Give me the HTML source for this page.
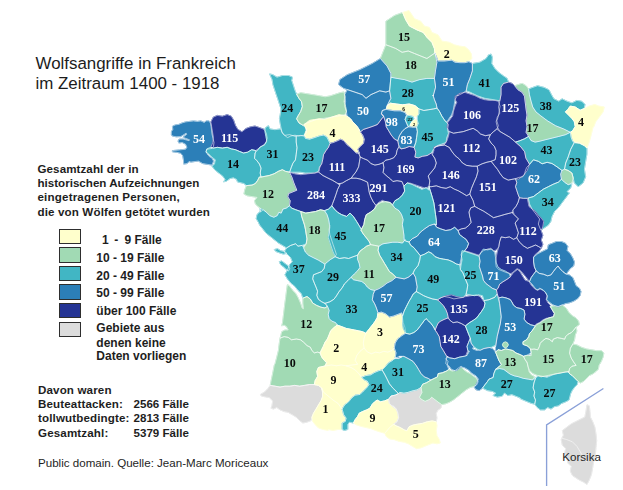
<!DOCTYPE html>
<html><head><meta charset="utf-8"><title>Wolfsangriffe in Frankreich</title>
<style>
html,body{margin:0;padding:0;background:#fff;}
body{width:623px;height:490px;overflow:hidden;position:relative;font-family:"Liberation Sans",sans-serif;color:#1a1a1a;}
.t{position:absolute;white-space:pre;line-height:1;}
.title{font-size:16.9px;left:35.5px;color:#1c1c1c;}
.b{font-weight:bold;font-size:11.6px;color:#1e1e1e;}
.r{font-size:11.58px;color:#1e1e1e;}
.l{font-size:12px;}
.sw{position:absolute;left:58.8px;width:20.5px;height:13.4px;border:1px solid #2e2e2e;}
svg{position:absolute;left:0;top:0;}
svg text{font-family:"Liberation Serif",serif;font-weight:bold;}
</style></head><body>
<svg width="623" height="490" viewBox="0 0 623 490">
<g style="filter:blur(0.35px)">
<polygon points="385.9,21.2 394.6,15.4 402.6,12.5 405.8,19.9 409.5,26.1 417.0,29.9 423.2,32.4 426.9,37.3 431.9,42.3 434.4,48.5 434.9,53.0 426.9,58.5 420.7,56.0 414.5,53.5 408.3,51.0 402.1,52.3 395.8,48.5 389.6,46.1 385.9,44.8" fill="#a1dab4" stroke="#a1dab4" stroke-width="1.0" stroke-linejoin="round"/>
<polygon points="385.9,44.8 389.6,46.1 395.8,48.5 402.1,52.3 408.3,51.0 414.5,53.5 420.7,56.0 426.9,58.5 434.9,53.0 436.9,62.2 435.6,69.7 434.4,78.4 426.9,78.4 419.5,79.6 412.0,82.1 404.5,79.6 397.1,78.4 390.9,77.2 390.9,73.4 387.1,66.0 380.4,58.5 383.4,51.0" fill="#a1dab4" stroke="#a1dab4" stroke-width="1.0" stroke-linejoin="round"/>
<polygon points="402.6,12.5 409.0,10.5 414.5,18.7 420.7,21.2 424.4,26.1 429.4,27.4 431.9,32.4 438.1,34.9 441.9,41.1 449.3,42.3 454.3,44.8 459.3,46.1 465.0,46.8 468.7,49.8 471.2,53.5 471.9,58.5 468.7,61.7 465.0,62.7 460.0,62.7 455.0,62.2 451.8,60.2 444.3,61.0 438.1,61.0 434.9,53.0 434.4,48.5 431.9,42.3 426.9,37.3 423.2,32.4 417.0,29.9 409.5,26.1 405.8,19.9" fill="#ffffcc" stroke="#ffffcc" stroke-width="1.0" stroke-linejoin="round"/>
<polygon points="380.4,58.5 387.1,66.0 390.9,73.4 390.9,77.2 389.6,90.8 385.9,92.1 379.7,90.8 371.0,94.6 366.0,98.3 362.2,94.6 354.8,92.1 347.3,89.6 343.6,88.3 338.6,84.6 339.9,79.6 347.3,74.7 359.8,69.7 372.2,63.5" fill="#2c7fb8" stroke="#2c7fb8" stroke-width="1.0" stroke-linejoin="round"/>
<polygon points="472.4,63.5 479.9,62.2 486.1,58.5 488.6,54.8 491.1,54.0 492.3,57.2 491.8,63.5 494.8,68.4 498.5,72.2 503.5,75.9 507.2,78.4 508.5,82.1 503.5,83.4 501.0,87.1 501.0,94.6 499.8,100.8 492.3,99.5 484.9,98.3 477.4,95.8 469.9,92.1 466.2,90.8 467.4,84.6 469.9,78.4 472.4,70.9" fill="#41b6c4" stroke="#41b6c4" stroke-width="1.0" stroke-linejoin="round"/>
<polygon points="574.4,141.9 579.4,143.1 584.4,145.6 586.9,148.1 586.9,154.3 585.6,161.8 584.4,169.2 585.6,176.7 583.1,182.9 578.2,186.7 574.4,182.9 573.2,178.0 571.9,173.0 568.2,170.5 564.5,169.2 565.7,163.0 568.2,156.8 570.7,149.3" fill="#41b6c4" stroke="#41b6c4" stroke-width="1.0" stroke-linejoin="round"/>
<polygon points="562.0,170.5 564.5,169.2 568.2,170.5 571.9,173.0 573.2,178.0 571.9,182.9 568.2,184.7 564.5,182.2 561.5,179.2 560.7,174.2" fill="#a1dab4" stroke="#a1dab4" stroke-width="1.0" stroke-linejoin="round"/>
<polygon points="529.6,164.3 533.4,159.8 538.3,161.3 542.1,163.8 547.1,162.3 552.0,163.5 557.0,166.8 562.0,170.5 560.7,174.2 561.5,179.2 558.3,182.2 553.3,184.2 548.3,186.7 543.3,189.2 538.3,192.9 533.4,196.6 527.3,198.3 523.3,198.3 519.4,197.7 518.1,194.4 516.8,190.5 515.5,186.6 516.8,182.6 515.5,178.7 518.8,177.4 522.7,176.8 524.6,174.2 525.3,170.9 526.6,167.6" fill="#2c7fb8" stroke="#2c7fb8" stroke-width="1.0" stroke-linejoin="round"/>
<polygon points="528.4,197.9 533.4,196.6 538.3,192.9 543.3,189.2 548.3,186.7 553.3,184.2 558.3,182.2 561.5,179.2 564.5,182.2 568.2,184.7 571.9,183.7 570.7,187.9 567.0,191.6 569.4,192.9 565.7,197.9 562.0,202.8 558.3,207.8 554.5,211.5 552.0,216.5 550.8,221.5 548.3,225.2 544.6,227.7 540.8,230.2 538.3,224.0 539.6,219.0 535.9,214.0 532.1,209.1 529.6,204.1" fill="#41b6c4" stroke="#41b6c4" stroke-width="1.0" stroke-linejoin="round"/>
<polygon points="514.7,85.7 522.1,83.3 526.1,85.7 528.6,89.0 529.4,94.7 531.0,101.2 532.7,107.0 535.9,111.9 540.8,115.9 547.4,120.8 555.6,125.8 563.7,129.0 570.3,132.3 565.4,134.7 558.8,136.4 552.3,138.0 545.8,139.6 539.2,141.3 535.1,142.1 531.0,140.5 528.6,136.4 526.1,132.3 527.0,126.6 526.1,120.8 527.0,115.1 526.1,109.4 525.3,102.9 524.5,96.3 522.1,92.3 518.0,89.8 514.7,85.7" fill="#a1dab4" stroke="#a1dab4" stroke-width="1.0" stroke-linejoin="round"/>
<polygon points="528.6,89.0 532.7,87.4 537.6,85.7 544.1,87.4 549.0,89.8 551.5,94.7 553.9,98.8 558.8,101.2 562.1,98.8 567.0,101.2 571.9,102.9 576.8,100.4 581.7,101.2 585.0,104.5 584.2,108.6 580.1,110.2 575.2,107.0 570.3,106.1 567.8,109.4 565.4,111.9 568.6,115.1 571.9,118.4 574.3,121.7 575.2,126.6 572.7,130.7 570.3,132.3 563.7,129.0 555.6,125.8 547.4,120.8 540.8,115.9 535.9,111.9 532.7,107.0 531.0,101.2 529.4,94.7 528.6,89.0" fill="#41b6c4" stroke="#41b6c4" stroke-width="1.0" stroke-linejoin="round"/>
<polygon points="565.4,111.9 567.8,109.4 570.3,106.1 575.2,107.0 580.1,110.2 584.2,108.6 589.1,106.1 594.8,104.5 598.9,106.1 604.3,107.0 603.0,112.0 599.3,117.0 595.6,121.9 593.8,126.9 593.1,127.0 591.3,134.4 589.3,141.9 586.9,148.1 584.4,145.6 579.4,143.1 574.4,142.6 572.7,141.3 571.1,137.2 570.3,132.3 572.7,130.7 575.2,126.6 574.3,121.7 571.9,118.4 568.6,115.1" fill="#ffffcc" stroke="#ffffcc" stroke-width="1.0" stroke-linejoin="round"/>
<polygon points="503.5,83.4 508.5,82.1 512.2,83.4 514.7,85.7 518.0,89.8 522.1,92.3 524.5,96.3 525.3,102.9 526.1,109.4 527.0,115.1 526.1,120.8 527.0,126.6 526.1,132.3 528.6,136.4 524.5,138.8 519.6,140.8 515.5,142.1 509.8,137.2 500.0,131.5 497.3,126.9 496.1,121.9 497.3,117.0 499.8,113.2 498.5,107.0 499.8,100.8 501.0,94.6 501.0,87.1" fill="#253494" stroke="#253494" stroke-width="1.0" stroke-linejoin="round"/>
<polygon points="515.5,142.1 519.6,140.8 524.5,138.8 528.6,136.4 531.0,140.5 535.1,142.1 539.2,141.3 545.8,139.6 552.3,138.0 558.8,136.4 565.4,134.7 570.3,132.3 571.1,137.2 572.7,141.3 574.4,142.6 570.7,149.3 568.2,156.8 565.7,163.0 564.5,169.2 562.0,170.5 557.0,166.8 552.0,163.5 547.1,162.3 542.1,163.8 538.3,161.3 533.4,159.8 529.6,164.3 525.9,158.1 524.7,151.8 520.9,146.9" fill="#41b6c4" stroke="#41b6c4" stroke-width="1.0" stroke-linejoin="round"/>
<polygon points="390.9,77.2 397.1,78.4 404.5,79.6 412.0,82.1 419.5,79.6 426.9,78.4 434.4,78.4 435.6,87.1 433.2,95.8 432.9,95.0 434.5,99.9 436.2,104.0 437.0,108.1 433.7,108.9 428.8,109.7 423.9,110.5 419.0,108.9 414.9,105.6 409.2,104.0 402.7,104.8 396.1,104.0 390.4,103.2 387.2,105.6 390.9,98.3 389.6,90.8" fill="#41b6c4" stroke="#41b6c4" stroke-width="1.0" stroke-linejoin="round"/>
<polygon points="347.3,89.6 354.8,92.1 362.2,94.6 366.0,98.3 371.0,94.6 379.7,90.8 385.9,92.1 389.6,90.8 390.9,98.3 387.2,105.6 386.3,108.9 382.3,110.5 381.4,113.8 384.0,116.3 382.3,118.0 379.9,121.2 377.4,124.5 373.3,126.1 368.4,127.8 363.5,129.4 360.3,131.9 358.6,128.6 356.2,125.3 352.9,122.1 350.5,118.8 347.2,116.3 346.4,111.4 344.7,106.5 345.6,101.6 344.8,94.6" fill="#2c7fb8" stroke="#2c7fb8" stroke-width="1.0" stroke-linejoin="round"/>
<polygon points="434.9,53.0 438.1,61.0 444.3,61.0 451.8,60.2 455.0,62.2 460.0,62.7 465.0,62.7 468.7,61.7 472.4,63.5 472.4,70.9 469.9,78.4 467.4,84.6 466.2,90.8 462.5,93.3 457.5,95.8 458.2,95.0 456.6,96.6 455.0,99.9 454.2,104.8 453.3,109.7 451.7,114.6 448.4,119.5 446.8,122.0 445.2,121.1 441.9,116.2 439.4,111.3 437.0,108.1 436.2,104.0 434.5,99.9 432.9,95.0 433.2,95.8 435.6,87.1 434.4,78.4 435.6,69.7 436.9,62.2" fill="#2c7fb8" stroke="#2c7fb8" stroke-width="1.0" stroke-linejoin="round"/>
<polygon points="387.2,105.6 390.4,103.2 396.1,104.0 402.7,104.8 409.2,104.0 414.9,105.6 419.0,108.9 419.0,113.8 417.4,116.2 413.3,116.6 409.2,115.4 405.1,112.5 400.2,110.8 394.5,110.8 389.6,110.0 386.3,109.4" fill="#ffffcc" stroke="#ffffcc" stroke-width="1.0" stroke-linejoin="round"/>
<polygon points="382.3,110.5 386.3,109.4 389.6,110.0 394.5,110.8 400.2,110.8 405.1,112.5 406.8,116.2 405.1,119.5 406.8,123.6 408.4,126.9 405.1,128.5 401.9,131.8 399.4,135.8 397.8,140.8 394.5,139.1 391.2,135.0 388.8,130.9 386.3,126.9 385.5,122.0 383.9,117.1 381.4,113.8" fill="#2c7fb8" stroke="#2c7fb8" stroke-width="1.0" stroke-linejoin="round"/>
<polygon points="405.9,116.2 409.2,115.4 413.3,116.6 414.1,119.5 411.7,122.0 410.0,125.2 408.4,126.9 406.8,123.6 405.1,119.5" fill="#41b6c4" stroke="#41b6c4" stroke-width="1.0" stroke-linejoin="round"/>
<polygon points="411.7,122.0 414.1,119.5 417.4,120.3 418.2,123.6 416.6,127.2 412.5,127.2 410.0,125.2" fill="#ffffcc" stroke="#ffffcc" stroke-width="1.0" stroke-linejoin="round"/>
<polygon points="401.9,131.8 405.1,128.5 408.4,126.9 412.5,127.2 416.6,127.2 417.4,131.8 416.6,137.5 415.8,142.4 414.1,147.3 409.2,146.5 405.1,148.1 401.0,148.9 398.6,144.8 397.8,140.8 399.4,135.8" fill="#2c7fb8" stroke="#2c7fb8" stroke-width="1.0" stroke-linejoin="round"/>
<polygon points="419.0,108.9 423.9,110.5 428.8,109.7 433.7,108.9 437.0,108.1 439.4,111.3 441.9,116.2 445.2,121.1 448.4,124.4 447.6,129.3 448.4,133.4 446.8,137.5 446.0,142.4 441.9,144.0 437.0,145.7 433.7,148.9 431.3,153.0 427.2,155.5 422.3,156.3 418.2,157.9 414.9,157.1 415.8,152.2 414.1,147.3 415.8,142.4 416.6,137.5 417.4,131.8 416.6,127.2 418.2,123.6 417.4,120.3 417.4,116.2 419.0,113.8" fill="#41b6c4" stroke="#41b6c4" stroke-width="1.0" stroke-linejoin="round"/>
<polygon points="172.4,126.3 175.3,124.9 178.7,124.4 182.2,122.9 185.6,121.9 189.5,121.4 193.5,120.9 197.4,121.4 200.8,120.9 204.2,122.4 206.2,120.9 209.1,120.9 210.6,123.4 211.1,126.8 211.6,130.7 212.1,134.7 213.1,138.6 214.0,142.5 213.5,146.4 212.1,148.4 209.1,148.9 206.7,149.4 206.2,151.8 207.7,154.8 209.6,156.7 212.1,158.2 213.5,161.1 212.1,165.1 207.6,164.4 202.7,163.6 198.4,161.1 194.4,161.6 191.0,162.1 189.0,161.6 187.1,163.6 183.6,164.1 183.5,160.2 182.7,155.7 180.7,153.3 176.8,152.3 172.4,151.8 172.4,150.6 179.7,149.9 185.6,149.2 186.9,147.2 185.6,144.3 182.2,142.5 178.7,143.0 178.0,141.0 179.2,139.1 183.2,139.1 189.0,140.7 189.5,139.8 182.9,137.3 186.8,134.2 186.1,133.2 180.7,136.6 176.3,136.8 172.4,136.1 171.4,134.7 171.4,131.7 172.9,129.3" fill="#2c7fb8" stroke="#2c7fb8" stroke-width="1.0" stroke-linejoin="round"/>
<polygon points="210.8,122.0 213.3,117.1 217.4,115.4 222.3,116.2 227.2,114.6 231.3,116.2 233.7,120.3 235.4,125.2 237.8,129.3 241.9,131.8 246.0,128.5 250.1,126.9 255.0,126.0 259.9,127.7 264.0,129.3 266.4,133.4 267.2,138.3 265.6,143.2 262.3,145.7 259.1,148.1 255.8,150.6 251.7,149.7 247.6,152.2 243.5,153.0 239.4,151.4 235.4,149.7 231.3,148.9 227.2,147.3 222.3,148.1 217.4,147.3 213.3,148.1 210.8,147.3 212.8,142.4 213.3,136.7 212.5,131.8 211.7,126.9" fill="#253494" stroke="#253494" stroke-width="1.0" stroke-linejoin="round"/>
<polygon points="206.8,148.9 210.8,147.3 213.3,148.1 217.4,147.3 222.3,148.1 227.2,147.3 231.3,148.9 235.4,149.7 239.4,151.4 243.5,153.0 247.6,152.2 251.7,149.7 255.8,150.6 254.5,158.3 257.0,160.8 259.4,164.0 261.0,168.1 260.2,173.0 261.0,177.1 259.4,177.0 257.8,180.2 255.4,183.5 252.1,185.1 246.4,185.6 243.9,183.5 240.7,182.7 237.4,181.9 236.6,179.4 233.3,177.8 230.0,178.6 226.8,181.0 223.5,181.9 225.1,179.4 222.7,176.1 218.6,172.9 214.5,169.6 212.1,166.3 214.5,163.9 215.3,159.8 211.2,156.5 208.0,153.3 205.9,152.2" fill="#41b6c4" stroke="#41b6c4" stroke-width="1.0" stroke-linejoin="round"/>
<polygon points="265.1,128.1 268.4,125.6 270.0,128.9 274.9,129.7 280.7,128.9 282.3,133.0 284.7,135.4 289.6,134.6 294.5,136.2 296.2,136.2 296.2,142.0 297.0,147.7 296.2,154.2 295.4,159.9 292.9,163.2 291.3,167.3 289.6,172.2 285.6,171.4 282.3,169.7 278.2,171.4 274.1,173.8 269.2,175.5 265.1,176.3 261.0,177.1 260.2,173.0 261.0,168.1 259.4,164.0 257.0,160.8 254.5,158.3 254.8,152.9 257.8,150.1 260.2,146.9 264.3,145.2 266.8,141.1 265.9,136.2 265.1,132.2" fill="#41b6c4" stroke="#41b6c4" stroke-width="1.0" stroke-linejoin="round"/>
<polygon points="269.6,73.9 272.9,74.7 277.0,77.2 282.7,75.5 288.4,75.5 292.5,77.2 291.7,80.4 293.3,85.3 294.9,90.2 296.6,94.3 299.0,98.4 301.5,101.7 302.3,106.6 300.7,111.5 298.2,115.6 296.6,118.8 299.0,122.9 303.1,125.4 306.4,128.6 306.4,132.7 303.9,135.2 299.0,136.0 294.9,135.2 290.8,136.0 287.6,137.6 284.3,135.2 281.9,131.9 281.0,127.8 280.2,123.7 279.4,118.8 280.2,114.7 281.0,109.0 279.4,104.1 277.8,99.2 276.1,94.3 274.5,89.4 272.9,84.5 272.1,79.6" fill="#41b6c4" stroke="#41b6c4" stroke-width="1.0" stroke-linejoin="round"/>
<polygon points="296.6,94.3 300.7,92.7 305.6,93.5 310.5,94.3 315.4,95.1 320.3,95.9 325.2,96.8 330.1,95.9 335.0,94.3 339.9,92.7 344.0,91.9 344.8,96.8 344.0,101.7 345.6,106.6 346.4,111.5 344.8,114.7 340.7,115.6 335.8,116.4 330.9,117.2 326.0,118.0 321.1,118.8 316.2,119.6 311.3,121.3 307.2,122.9 303.1,125.4 299.0,122.9 296.6,118.8 298.2,115.6 300.7,111.5 302.3,106.6 301.5,101.7 299.0,98.4" fill="#a1dab4" stroke="#a1dab4" stroke-width="1.0" stroke-linejoin="round"/>
<polygon points="303.9,124.5 306.3,122.9 309.6,120.4 314.5,119.6 319.4,118.8 324.3,119.6 329.2,118.0 334.1,116.3 339.0,114.7 343.9,115.5 347.2,116.3 350.5,118.8 352.9,122.1 356.2,125.3 358.6,128.6 360.3,131.9 362.7,135.1 364.3,139.2 363.5,143.3 360.3,146.6 357.8,149.0 359.4,153.1 356.2,153.1 352.9,149.8 350.5,147.4 347.2,144.9 343.9,140.8 340.7,139.2 337.4,140.8 333.3,142.5 330.0,143.3 328.4,140.0 326.8,136.8 323.5,135.1 319.4,135.9 314.5,137.6 309.6,139.2 305.5,138.4 304.7,134.3 306.3,130.2 305.5,127.0" fill="#ffffcc" stroke="#ffffcc" stroke-width="1.0" stroke-linejoin="round"/>
<polygon points="296.2,136.2 300.3,135.4 304.3,136.2 305.5,138.4 309.6,139.2 314.5,137.6 319.4,135.9 323.5,135.1 326.8,136.8 328.4,140.0 330.0,143.3 328.4,147.4 325.9,150.7 323.5,154.7 322.7,159.6 321.9,163.7 319.4,167.0 318.6,171.1 315.0,173.0 310.1,173.0 305.2,173.0 300.3,172.2 295.4,172.2 289.6,172.2 291.3,167.3 292.9,163.2 295.4,159.9 296.2,154.2 297.0,147.7 296.2,142.0" fill="#41b6c4" stroke="#41b6c4" stroke-width="1.0" stroke-linejoin="round"/>
<polygon points="261.0,177.1 265.1,176.3 269.2,175.5 274.1,173.8 278.2,171.4 282.3,169.7 285.6,171.4 289.6,172.2 291.9,177.2 293.5,182.1 295.1,186.1 296.8,190.2 292.7,191.9 288.6,193.5 287.8,196.8 290.2,200.8 289.4,205.8 286.1,208.2 282.9,209.0 281.2,213.1 278.8,212.3 277.2,215.6 273.9,217.2 269.8,215.6 266.5,212.3 263.3,209.8 260.3,212.1 261.1,208.8 257.8,206.4 255.4,203.9 254.5,200.7 257.0,197.4 252.1,196.6 247.2,195.8 243.9,194.1 244.7,190.0 246.4,185.6 252.1,185.1 255.4,183.5 257.8,180.2 259.4,177.0" fill="#a1dab4" stroke="#a1dab4" stroke-width="1.0" stroke-linejoin="round"/>
<polygon points="289.4,172.3 295.1,173.9 300.8,174.7 307.4,173.9 313.9,173.1 318.8,172.3 322.9,175.5 327.8,178.0 332.7,180.4 336.8,182.9 340.1,184.5 337.6,189.4 336.0,194.3 334.3,199.2 332.7,203.3 331.9,205.8 328.6,209.0 324.5,210.7 320.5,209.8 315.6,211.5 310.7,212.3 305.8,213.1 300.8,211.5 295.9,209.8 291.9,208.2 289.4,205.8 290.2,200.8 287.8,196.8 288.6,193.5 292.7,191.9 296.8,190.2 295.1,186.1 293.5,182.1 291.9,177.2" fill="#253494" stroke="#253494" stroke-width="1.0" stroke-linejoin="round"/>
<polygon points="330.0,143.3 333.3,142.5 337.4,140.8 340.7,139.2 343.9,140.8 347.2,144.9 350.5,147.4 352.9,149.8 356.2,153.1 359.4,153.1 358.6,152.9 360.2,157.0 359.4,161.9 358.6,166.8 356.1,171.7 352.9,175.8 351.2,178.2 346.3,180.7 342.3,183.1 338.2,183.9 336.8,182.9 332.7,180.4 327.8,178.0 322.9,175.5 318.8,172.3 319.6,168.2 321.3,164.1 322.7,159.6 323.5,154.7 325.9,150.7 328.4,147.4" fill="#253494" stroke="#253494" stroke-width="1.0" stroke-linejoin="round"/>
<polygon points="360.3,131.9 362.7,135.1 364.3,139.2 363.5,143.3 360.3,146.6 357.8,149.0 359.4,153.1 358.6,152.9 360.2,157.0 363.5,158.6 367.6,160.2 370.8,163.5 374.9,165.1 379.0,164.3 383.1,162.7 385.6,160.2 389.6,159.4 393.7,157.8 396.2,154.5 397.0,150.4 398.6,147.2 398.6,144.8 397.8,140.8 394.5,139.1 391.2,135.0 388.8,130.9 386.3,126.9 385.5,122.0 383.9,117.1 381.4,113.8 384.0,116.3 382.3,118.0 379.9,121.2 377.4,124.5 373.3,126.1 368.4,127.8 363.5,129.4" fill="#253494" stroke="#253494" stroke-width="1.0" stroke-linejoin="round"/>
<polygon points="383.1,162.7 385.6,160.2 389.6,159.4 393.7,157.8 396.2,154.5 397.0,150.4 398.6,147.2 401.0,148.9 405.1,148.1 409.2,146.5 414.1,147.3 415.8,152.2 414.9,157.1 418.2,157.9 422.3,156.3 427.2,155.5 431.3,153.0 434.7,158.1 436.3,163.0 434.7,167.9 431.4,172.0 428.2,176.0 429.8,180.9 429.0,186.7 424.8,188.0 419.9,186.4 415.0,184.7 410.1,183.1 407.2,182.9 403.9,186.1 401.9,181.5 397.0,180.7 392.9,181.5 390.5,179.0 386.4,175.8 383.1,172.5 383.9,167.6" fill="#253494" stroke="#253494" stroke-width="1.0" stroke-linejoin="round"/>
<polygon points="360.2,157.0 363.5,158.6 367.6,160.2 370.8,163.5 374.9,165.1 379.0,164.3 383.1,162.7 383.9,167.6 383.1,172.5 386.4,175.8 390.5,179.0 392.9,181.5 397.0,180.7 401.9,181.5 403.9,186.1 404.7,191.0 402.3,195.1 399.0,198.4 394.9,200.8 392.5,204.9 390.0,202.5 386.4,201.9 382.3,200.3 378.2,202.7 375.8,205.2 373.3,201.9 370.8,197.0 369.2,192.1 368.4,187.2 367.6,182.3 364.3,180.7 360.2,179.0 356.1,178.2 351.2,178.2 352.9,175.8 356.1,171.7 358.6,166.8 359.4,161.9" fill="#253494" stroke="#253494" stroke-width="1.0" stroke-linejoin="round"/>
<polygon points="351.2,178.2 356.1,178.2 360.2,179.0 364.3,180.7 367.6,182.3 368.4,187.2 369.2,192.1 370.8,197.0 373.3,201.9 375.8,205.2 374.5,209.0 370.4,212.3 366.3,214.7 364.7,219.6 363.9,224.5 361.4,229.4 359.0,225.4 356.5,221.3 353.3,216.4 350.0,213.1 346.6,216.4 341.7,214.7 337.6,212.3 334.3,209.0 331.9,205.8 332.7,203.3 334.3,199.2 336.0,194.3 337.6,189.4 340.1,184.5 338.2,183.9 342.3,183.1 346.3,180.7" fill="#253494" stroke="#253494" stroke-width="1.0" stroke-linejoin="round"/>
<polygon points="455.1,96.4 460.0,93.2 464.9,92.4 469.8,94.0 474.7,95.6 479.6,98.1 484.5,99.7 490.3,100.5 495.2,100.5 498.4,101.3 500.1,106.2 499.2,111.1 498.4,116.0 496.8,120.9 498.4,125.8 496.8,129.1 493.5,131.6 490.3,134.8 485.4,135.7 480.5,134.0 477.2,130.8 473.1,128.3 468.2,129.9 463.3,131.6 458.4,132.4 453.5,133.2 449.4,131.6 447.0,127.5 447.8,122.6 450.2,119.3 452.7,116.0 453.5,111.1 455.1,106.2 456.8,102.2 455.1,99.7" fill="#253494" stroke="#253494" stroke-width="1.0" stroke-linejoin="round"/>
<polygon points="449.4,131.6 453.5,133.2 458.4,132.4 463.3,131.6 468.2,129.9 473.1,128.3 477.2,130.8 480.5,134.0 485.4,135.7 490.3,134.8 488.6,138.9 491.1,143.0 494.3,146.3 496.0,150.4 496.0,154.8 495.2,159.7 491.1,161.3 487.0,162.2 482.1,163.8 477.2,166.2 472.3,166.2 466.6,165.4 462.5,163.0 459.2,158.9 455.1,155.6 451.9,151.5 449.4,147.5 444.5,145.0 438.8,145.8 433.9,147.5 436.3,146.3 439.6,145.5 444.5,144.6 447.0,140.6 448.6,135.7" fill="#253494" stroke="#253494" stroke-width="1.0" stroke-linejoin="round"/>
<polygon points="490.3,134.8 493.5,131.6 496.8,129.1 500.0,131.5 509.8,137.2 515.5,142.1 520.9,146.9 524.7,151.8 525.9,158.1 529.6,164.3 527.2,170.5 523.4,175.5 518.4,179.2 515.5,178.7 508.2,180.1 503.3,177.7 500.1,173.6 497.6,169.5 494.3,165.4 491.1,161.3 495.2,159.7 496.0,154.8 496.0,150.4 494.3,146.3 491.1,143.0 488.6,138.9" fill="#253494" stroke="#253494" stroke-width="1.0" stroke-linejoin="round"/>
<polygon points="433.9,147.5 438.8,145.8 444.5,145.0 449.4,147.5 451.9,151.5 455.1,155.6 459.2,158.9 462.5,163.0 466.6,165.4 472.3,166.2 477.2,166.2 478.0,171.1 476.4,176.9 473.9,182.6 471.5,188.3 469.8,194.0 466.6,195.7 462.5,193.2 458.4,190.8 454.3,189.1 450.2,186.7 446.1,188.3 441.2,187.5 436.3,185.8 431.4,186.7 429.0,186.7 429.8,180.9 428.2,176.0 431.4,172.0 434.7,167.9 436.3,163.0 434.7,158.1 432.3,154.8 433.9,150.7" fill="#253494" stroke="#253494" stroke-width="1.0" stroke-linejoin="round"/>
<polygon points="477.2,166.2 482.1,163.8 487.0,162.2 491.1,161.3 494.3,165.4 497.6,169.5 500.1,173.6 503.3,177.7 508.2,180.1 515.5,178.7 516.8,182.6 515.5,186.6 516.8,190.5 518.1,194.4 519.4,197.7 518.1,202.3 516.1,206.2 513.5,209.4 511.6,212.7 505.0,214.4 499.2,216.1 493.5,217.7 488.6,214.4 483.7,211.2 478.8,208.7 474.7,206.3 473.1,200.6 469.8,194.0 471.5,188.3 473.9,182.6 476.4,176.9 478.0,171.1" fill="#253494" stroke="#253494" stroke-width="1.0" stroke-linejoin="round"/>
<polygon points="429.0,186.7 431.4,186.7 436.3,185.8 441.2,187.5 446.1,188.3 450.2,186.7 454.3,189.1 458.4,190.8 462.5,193.2 466.6,195.7 469.8,194.0 473.1,200.6 474.7,206.3 470.7,207.9 469.0,212.0 469.8,216.9 470.3,218.3 471.1,222.4 468.6,225.6 465.4,228.1 461.3,228.9 458.0,230.5 454.7,227.3 450.7,229.7 445.8,230.5 440.8,228.9 436.8,227.3 434.3,224.0 436.3,225.1 436.3,220.2 435.5,214.4 434.7,208.7 433.9,203.0 432.3,197.3 430.6,191.6" fill="#253494" stroke="#253494" stroke-width="1.0" stroke-linejoin="round"/>
<polygon points="474.7,206.3 478.8,208.7 483.7,211.2 488.6,214.4 493.5,217.7 499.2,216.1 505.0,214.4 511.6,212.7 514.3,214.8 518.4,218.9 515.1,223.0 516.8,227.9 518.4,232.8 516.8,237.7 513.5,239.3 509.4,236.9 505.3,237.7 501.2,236.9 499.6,241.8 498.8,246.7 496.3,249.9 493.9,250.8 490.6,248.3 487.4,249.1 483.3,250.8 480.0,254.0 478.4,255.0 473.5,253.4 468.6,251.8 464.5,250.9 467.0,247.7 468.6,243.6 466.2,239.5 462.9,237.1 459.6,234.6 458.0,230.5 461.3,228.9 465.4,228.1 468.6,225.6 471.1,222.4 470.3,218.3 469.8,216.9 469.0,212.0 470.7,207.9" fill="#253494" stroke="#253494" stroke-width="1.0" stroke-linejoin="round"/>
<polygon points="519.4,197.7 523.3,198.3 527.3,198.3 529.0,206.6 532.3,209.1 535.6,211.5 538.0,214.8 541.3,218.1 543.7,221.3 542.9,226.2 541.3,231.1 542.9,235.2 541.3,240.1 542.9,244.2 541.3,248.3 538.8,246.7 535.6,245.0 531.5,246.7 527.4,248.3 523.3,245.8 519.2,241.8 516.8,237.7 518.4,232.8 516.8,227.9 515.1,223.0 518.4,218.9 514.3,214.8 512.7,209.9 513.5,209.4 516.1,206.2 518.1,202.3" fill="#253494" stroke="#253494" stroke-width="1.0" stroke-linejoin="round"/>
<polygon points="501.2,236.9 505.3,237.7 509.4,236.9 513.5,239.3 516.8,237.7 519.2,241.8 523.3,245.8 527.4,248.3 531.5,246.7 535.6,245.0 538.8,246.7 541.3,248.3 538.8,251.6 535.6,254.0 533.6,257.1 533.6,262.0 534.4,266.9 536.1,270.9 533.6,274.2 531.2,277.5 529.5,281.6 525.8,276.9 522.5,272.8 519.2,269.5 516.8,268.7 514.3,271.2 511.0,273.6 507.0,272.8 502.9,271.2 498.8,269.5 496.3,267.1 495.5,262.2 496.3,257.3 497.2,252.4 498.8,246.7 499.6,241.8" fill="#253494" stroke="#253494" stroke-width="1.0" stroke-linejoin="round"/>
<polygon points="260.0,208.2 263.3,209.8 266.5,212.3 269.8,215.6 273.9,217.2 277.2,215.6 278.8,212.3 281.2,213.1 282.9,209.0 286.1,208.2 289.4,205.8 291.9,208.2 295.9,209.8 300.8,211.5 301.7,216.4 303.3,221.3 304.5,225.0 305.4,229.1 306.2,234.0 307.0,238.9 306.2,243.8 302.1,245.4 298.0,246.2 295.6,243.8 290.7,245.4 286.6,247.9 282.5,245.4 278.4,243.0 274.3,239.7 270.2,236.4 266.1,233.2 262.9,229.1 259.6,225.0 258.6,222.7 256.2,218.6 257.0,214.5 260.3,211.3" fill="#41b6c4" stroke="#41b6c4" stroke-width="1.0" stroke-linejoin="round"/>
<polygon points="300.8,211.5 305.8,213.1 310.7,212.3 315.6,211.5 320.5,209.8 324.5,210.7 327.0,214.7 328.6,219.6 329.4,224.5 329.9,225.0 329.1,229.9 329.9,234.8 331.5,239.7 333.1,244.6 334.8,249.5 336.4,254.4 334.8,256.9 330.7,259.3 327.4,261.8 325.0,264.2 322.5,262.6 318.4,260.1 313.5,257.7 308.6,255.2 305.4,252.0 303.7,247.9 306.2,243.8 307.0,238.9 306.2,234.0 305.4,229.1 304.5,225.0 303.3,221.3 301.7,216.4" fill="#a1dab4" stroke="#a1dab4" stroke-width="1.0" stroke-linejoin="round"/>
<polygon points="324.5,210.7 328.6,209.0 331.9,205.8 334.3,209.0 337.6,212.3 341.7,214.7 346.6,216.4 350.0,213.1 353.3,216.4 356.5,221.3 359.0,225.4 361.4,229.4 360.8,229.9 363.3,234.0 366.6,238.1 369.0,241.3 370.7,244.6 366.6,246.2 363.3,248.7 360.0,251.1 357.6,255.2 352.7,256.9 348.6,258.5 344.5,257.7 339.6,258.5 335.5,256.9 333.1,252.0 331.4,247.1 329.8,242.2 328.2,237.3 329.0,232.4 329.8,227.5 329.4,224.5 328.6,219.6 327.0,214.7" fill="#41b6c4" stroke="#41b6c4" stroke-width="1.0" stroke-linejoin="round"/>
<polygon points="377.0,204.9 381.0,202.5 385.9,201.7 390.0,202.5 392.5,204.9 394.9,208.2 399.0,210.7 401.5,214.7 403.1,219.6 402.3,224.5 403.1,229.4 403.9,235.2 404.7,240.1 405.0,239.7 402.5,243.0 397.6,242.2 392.7,242.2 387.8,243.0 382.9,243.8 378.8,246.2 374.7,245.4 370.7,244.6 369.0,241.3 366.6,238.1 363.3,234.0 360.8,229.9 361.4,229.4 363.9,224.5 364.7,219.6 366.3,214.7 370.4,212.3 374.5,209.0" fill="#a1dab4" stroke="#a1dab4" stroke-width="1.0" stroke-linejoin="round"/>
<polygon points="403.9,186.1 407.2,182.9 412.1,184.5 417.0,187.0 421.9,189.4 426.0,187.8 429.2,190.2 429.0,186.7 430.6,191.6 432.3,197.3 433.9,203.0 434.7,208.7 435.5,214.4 436.3,220.2 436.3,225.1 434.3,224.0 429.4,225.6 424.5,228.9 420.4,232.2 417.2,236.2 412.3,238.7 409.0,242.0 405.7,241.1 403.3,239.5 403.9,235.2 403.1,229.4 402.3,224.5 403.1,219.6 401.5,214.7 399.0,210.7 394.9,208.2 392.5,204.9 394.9,200.8 399.0,198.4 402.3,195.1 404.7,191.0" fill="#41b6c4" stroke="#41b6c4" stroke-width="1.0" stroke-linejoin="round"/>
<polygon points="409.0,242.0 412.3,238.7 417.2,236.2 420.4,232.2 424.5,228.9 429.4,225.6 434.3,224.0 436.8,227.3 440.8,228.9 445.8,230.5 450.7,229.7 454.7,227.3 458.0,230.5 459.6,234.6 462.9,237.1 466.2,239.5 468.6,243.6 467.0,247.7 464.5,250.9 462.1,253.4 461.3,257.5 460.5,261.6 459.6,264.8 456.4,264.0 452.3,261.6 448.2,259.9 443.3,259.1 439.2,258.3 435.1,256.7 431.9,253.4 428.6,251.8 424.5,254.2 420.4,255.8 417.2,251.8 413.9,247.7 410.6,245.2" fill="#2c7fb8" stroke="#2c7fb8" stroke-width="1.0" stroke-linejoin="round"/>
<polygon points="378.8,246.2 382.9,243.8 387.8,243.0 392.7,242.2 397.6,242.2 402.5,243.0 405.0,239.7 405.7,241.1 409.0,242.0 410.6,245.2 413.9,247.7 417.2,251.8 420.4,255.8 419.6,260.8 418.0,265.7 414.7,269.7 413.1,273.0 411.5,274.8 408.2,277.3 404.2,278.9 400.1,278.1 396.0,277.3 392.7,274.0 389.4,271.6 387.0,267.5 384.5,263.4 382.1,259.3 379.6,255.2 378.0,250.3" fill="#41b6c4" stroke="#41b6c4" stroke-width="1.0" stroke-linejoin="round"/>
<polygon points="370.7,244.6 374.7,245.4 378.8,246.2 378.0,250.3 379.6,255.2 382.1,259.3 384.5,263.4 387.0,267.5 389.4,271.6 392.7,274.0 396.0,277.3 391.9,280.6 387.0,283.0 382.9,286.3 378.8,288.7 374.7,290.4 370.7,289.5 367.4,287.1 364.9,283.8 361.7,281.4 357.6,280.6 353.5,279.7 351.0,277.3 354.3,274.0 357.6,270.8 360.0,267.5 359.2,263.4 357.6,259.3 357.6,255.2 360.0,251.1 363.3,248.7 366.6,246.2" fill="#a1dab4" stroke="#a1dab4" stroke-width="1.0" stroke-linejoin="round"/>
<polygon points="325.0,264.2 327.4,261.8 330.7,259.3 334.8,256.9 335.5,256.9 339.6,258.5 344.5,257.7 348.6,258.5 352.7,256.9 357.6,255.2 357.6,259.3 359.2,263.4 360.0,267.5 357.6,270.8 354.3,274.0 351.0,277.3 347.8,280.6 344.5,283.8 342.1,287.9 338.8,292.0 336.3,296.1 333.9,299.3 329.8,301.8 324.9,303.4 325.0,303.4 321.7,301.8 318.4,299.3 316.8,295.3 317.6,291.2 316.0,287.1 314.3,283.0 312.7,278.9 313.5,274.8 317.6,273.2 321.7,271.6 324.2,268.3" fill="#41b6c4" stroke="#41b6c4" stroke-width="1.0" stroke-linejoin="round"/>
<polygon points="286.6,247.9 290.7,245.4 295.6,243.8 298.0,246.2 302.1,245.4 303.7,247.9 305.4,252.0 308.6,255.2 313.5,257.7 318.4,260.1 322.5,262.6 325.0,264.2 324.2,268.3 321.7,271.6 317.6,273.2 313.5,274.8 312.7,278.9 314.3,283.0 316.0,287.1 317.6,291.2 316.8,295.3 318.4,299.3 321.7,301.8 325.0,303.4 327.4,306.3 325.0,308.0 320.9,307.2 316.8,305.5 312.7,303.1 310.3,299.0 307.0,296.5 302.9,298.2 301.3,293.6 298.0,290.4 294.7,286.3 290.7,283.0 287.4,278.9 284.9,274.8 286.6,271.6 288.2,268.3 289.8,264.2 292.3,261.8 290.7,257.7 287.4,254.4 284.1,252.0" fill="#41b6c4" stroke="#41b6c4" stroke-width="1.0" stroke-linejoin="round"/>
<polygon points="274.3,249.5 277.6,248.7 280.8,250.8 284.9,251.6 286.9,253.4 283.3,254.1 279.2,252.8 275.9,251.5" fill="#41b6c4" stroke="#41b6c4" stroke-width="1.0" stroke-linejoin="round"/>
<polygon points="279.2,261.8 281.7,260.9 284.9,263.4 288.2,265.8 289.8,268.3 288.5,271.1 285.8,269.1 283.3,266.7 280.8,265.0" fill="#41b6c4" stroke="#41b6c4" stroke-width="1.0" stroke-linejoin="round"/>
<polygon points="287.4,284.6 289.0,285.5 293.1,290.8 295.6,293.3 298.0,297.4 300.5,303.1 302.1,308.0 303.4,308.8 302.9,303.1 302.9,298.2 307.0,296.5 310.3,299.0 312.7,303.1 316.8,305.5 320.9,307.2 325.0,308.0 327.4,306.3 329.1,310.4 328.2,314.5 329.1,318.6 331.5,321.0 335.6,322.7 337.2,325.1 334.0,327.6 330.7,330.8 329.1,334.9 327.4,339.0 325.0,342.3 323.3,346.4 321.7,349.6 320.1,352.9 317.6,352.1 314.3,352.9 311.9,350.5 310.3,347.2 307.0,345.6 303.7,342.3 300.5,339.8 296.4,339.0 291.5,339.8 288.2,337.4 284.1,336.6 280.0,338.2 280.8,335.8 281.7,331.7 284.9,330.0 288.2,330.0 286.6,326.8 284.1,325.1 281.7,325.9 282.5,322.7 283.3,316.1 284.1,309.6 284.9,303.1 285.8,296.5 286.6,290.0" fill="#a1dab4" stroke="#a1dab4" stroke-width="1.0" stroke-linejoin="round"/>
<polygon points="351.0,277.3 353.5,279.7 357.6,280.6 361.7,281.4 364.9,283.8 367.4,287.1 370.7,289.5 374.7,290.4 373.1,294.4 373.1,294.9 372.3,299.8 374.7,303.9 376.4,308.0 378.0,312.9 377.2,317.8 374.7,321.9 372.3,325.1 369.0,329.2 365.8,333.3 362.5,331.7 358.4,330.8 354.3,330.0 350.2,329.2 346.1,328.4 342.1,326.8 337.2,325.1 335.6,322.7 331.5,321.0 329.1,318.6 328.2,314.5 329.1,310.4 327.4,306.3 325.0,303.4 324.9,303.4 329.8,301.8 333.9,299.3 336.3,296.1 338.8,292.0 342.1,287.9 344.5,283.8 347.8,280.6" fill="#41b6c4" stroke="#41b6c4" stroke-width="1.0" stroke-linejoin="round"/>
<polygon points="280.0,338.2 284.1,336.6 288.2,337.4 291.5,339.8 296.4,339.0 300.5,339.8 303.7,342.3 307.0,345.6 310.3,347.2 311.9,350.5 314.3,352.9 317.6,352.1 320.1,352.9 321.7,357.0 324.2,360.3 326.6,362.7 325.0,366.0 318.4,367.5 316.8,371.5 317.6,376.4 315.2,380.5 314.3,384.6 309.4,384.6 304.5,385.4 299.6,386.2 294.7,385.4 289.8,386.2 284.9,386.2 280.0,387.1 275.1,386.2 270.2,385.4 271.0,381.3 272.7,373.2 274.3,365.0 275.1,363.5 276.8,357.0 278.4,350.5 279.2,343.9" fill="#a1dab4" stroke="#a1dab4" stroke-width="1.0" stroke-linejoin="round"/>
<polygon points="270.2,385.4 275.1,386.2 280.0,387.1 284.9,386.2 289.8,386.2 294.7,385.4 299.6,386.2 304.5,385.4 309.4,384.6 314.3,384.6 318.4,385.4 321.7,387.9 322.5,392.0 322.5,396.9 320.9,400.9 318.4,405.0 316.0,409.1 313.5,413.2 311.9,417.3 311.1,420.6 307.0,422.2 302.9,423.0 299.6,420.6 296.4,417.3 292.3,414.8 288.2,412.4 284.1,411.6 280.0,409.9 276.8,407.5 273.5,409.1 271.0,408.3 271.9,405.8 272.7,400.9 269.4,397.7 265.3,396.9 261.2,396.0 260.4,394.4 264.5,392.0 267.8,388.7" fill="#dcdcdc" stroke="#dcdcdc" stroke-width="1.0" stroke-linejoin="round"/>
<polygon points="337.2,325.1 342.1,326.8 346.1,328.4 350.2,329.2 354.3,330.0 358.4,330.8 362.5,331.7 365.8,333.3 364.1,338.2 363.3,343.1 364.1,348.0 360.0,351.3 356.8,355.4 355.1,360.3 357.6,364.3 346.1,365.8 341.2,365.0 336.3,365.8 331.4,365.0 325.0,366.0 326.6,362.7 324.2,360.3 321.7,357.0 320.1,352.9 321.7,349.6 323.3,346.4 325.0,342.3 327.4,339.0 329.1,334.9 330.7,330.8 334.0,327.6 337.2,325.1" fill="#ffffcc" stroke="#ffffcc" stroke-width="1.0" stroke-linejoin="round"/>
<polygon points="378.0,312.9 381.3,312.1 385.4,313.7 389.4,317.0 393.5,316.1 397.6,314.5 401.7,312.9 402.5,317.8 403.3,322.7 405.0,327.6 405.8,332.5 401.7,335.8 397.6,339.0 395.2,343.1 394.3,348.0 391.9,350.5 387.8,352.1 383.7,351.3 379.6,352.9 375.6,352.1 371.5,353.7 367.4,352.1 364.1,348.0 363.3,343.1 364.1,338.2 365.8,333.3 369.0,329.2 372.3,325.1 374.7,321.9 377.2,317.8" fill="#ffffcc" stroke="#ffffcc" stroke-width="1.0" stroke-linejoin="round"/>
<polygon points="364.1,348.0 367.4,352.1 371.5,353.7 375.6,352.1 379.6,352.9 383.7,351.3 387.8,352.1 391.9,350.5 394.3,348.0 396.0,352.9 395.2,357.8 392.7,360.3 388.6,362.7 385.4,366.6 382.1,369.9 378.8,370.7 374.7,372.4 370.7,374.8 365.8,375.6 361.7,377.3 358.4,373.2 355.1,369.9 351.0,367.5 346.1,365.8 357.6,364.3 355.1,360.3 356.8,355.4 360.0,351.3" fill="#ffffcc" stroke="#ffffcc" stroke-width="1.0" stroke-linejoin="round"/>
<polygon points="325.0,366.0 331.4,365.0 336.3,365.8 341.2,365.0 346.1,365.8 351.0,367.5 355.1,369.9 358.4,373.2 361.7,377.3 364.1,379.7 367.4,381.3 369.0,384.6 366.6,387.9 363.3,391.1 360.0,394.4 355.1,395.2 351.9,397.7 348.6,401.8 344.5,405.0 342.1,409.1 338.0,403.4 333.1,400.1 328.2,396.0 323.3,392.0 321.7,387.9 318.4,385.4 314.3,384.6 315.2,380.5 317.6,376.4 316.8,371.5 318.4,367.5" fill="#ffffcc" stroke="#ffffcc" stroke-width="1.0" stroke-linejoin="round"/>
<polygon points="321.7,387.9 322.5,392.0 322.5,396.9 320.9,400.9 318.4,405.0 316.0,409.1 313.5,413.2 311.9,417.3 312.7,421.4 315.2,424.6 318.4,427.9 323.3,429.5 328.2,430.4 328.2,429.5 333.1,430.4 338.0,429.5 342.1,429.5 342.1,423.0 345.3,421.4 346.1,418.1 343.7,414.8 342.1,409.1 338.0,403.4 333.1,400.1 328.2,396.0 323.3,392.0" fill="#ffffcc" stroke="#ffffcc" stroke-width="1.0" stroke-linejoin="round"/>
<polygon points="361.7,377.3 365.8,375.6 370.7,374.8 374.7,372.4 378.8,370.7 382.1,369.9 384.5,374.0 387.0,378.9 389.4,383.8 392.7,387.9 396.0,391.1 398.4,393.6 395.2,395.2 391.1,396.0 388.6,399.3 384.5,400.9 380.5,401.8 377.2,400.1 374.7,401.8 372.3,404.2 369.8,408.3 366.6,409.9 362.5,411.6 359.2,413.2 357.6,416.5 355.1,419.7 353.5,423.0 349.4,422.2 347.8,424.6 347.8,429.5 344.5,430.4 342.1,429.5 342.1,423.0 345.3,421.4 346.1,418.1 343.7,414.8 342.1,409.1 344.5,405.0 348.6,401.8 351.9,397.7 355.1,395.2 360.0,394.4 363.3,391.1 366.6,387.9 369.0,384.6 367.4,381.3 364.1,379.7" fill="#41b6c4" stroke="#41b6c4" stroke-width="1.0" stroke-linejoin="round"/>
<polygon points="372.3,404.2 374.7,401.8 377.2,400.1 380.5,401.8 384.5,400.9 388.6,399.3 389.4,403.4 391.9,405.8 395.2,408.3 392.9,405.4 396.1,408.7 397.8,412.8 398.6,417.7 397.0,421.8 393.7,424.2 389.6,427.5 386.3,431.6 384.7,433.2 380.5,432.1 375.6,430.4 370.7,428.6 360.8,426.3 355.9,424.6 353.5,423.0 355.1,419.7 357.6,416.5 359.2,413.2 362.5,411.6 366.6,409.9 369.8,408.3" fill="#ffffcc" stroke="#ffffcc" stroke-width="1.0" stroke-linejoin="round"/>
<polygon points="398.4,393.6 395.2,395.2 391.1,396.0 388.6,399.3 389.4,403.4 391.9,405.8 395.2,408.3 396.1,408.7 397.8,412.8 398.6,417.7 397.0,421.8 393.7,424.2 396.1,425.8 400.2,427.5 404.3,429.9 406.8,430.8 409.2,426.7 413.3,425.0 417.4,424.2 422.3,423.4 427.2,421.8 432.1,420.9 436.2,421.8 437.0,417.7 436.2,413.6 437.8,410.3 441.1,407.9 441.5,404.6 438.2,402.2 434.9,399.7 431.7,397.3 429.2,399.7 425.1,401.4 421.9,399.7 419.4,397.3 421.9,392.4 421.0,387.5 417.0,389.9 412.9,390.8 408.0,392.4 403.9,393.2 399.8,392.4" fill="#dcdcdc" stroke="#dcdcdc" stroke-width="1.0" stroke-linejoin="round"/>
<polygon points="393.7,424.2 396.1,425.8 400.2,427.5 404.3,429.9 406.8,430.8 409.2,426.7 413.3,425.0 417.4,424.2 422.3,423.4 427.2,421.8 432.1,420.9 436.2,421.8 437.0,425.8 436.2,430.8 437.0,435.7 439.4,439.7 440.3,443.0 437.0,443.8 432.9,443.0 428.8,444.6 424.7,446.3 420.7,447.9 416.6,448.7 412.5,446.3 408.4,443.8 404.3,442.2 399.4,441.4 394.5,439.7 389.6,438.9 386.3,436.5 384.7,433.2 386.3,431.6 389.6,427.5" fill="#ffffcc" stroke="#ffffcc" stroke-width="1.0" stroke-linejoin="round"/>
<polygon points="394.1,358.9 399.0,356.4 403.9,356.4 408.8,358.9 412.9,361.3 416.1,365.4 418.6,369.5 421.0,373.6 424.3,376.9 428.4,378.5 430.8,380.1 426.8,382.6 422.7,384.2 421.0,387.5 417.0,389.9 412.9,390.8 408.0,392.4 403.9,393.2 399.8,392.4 398.4,393.6 396.0,391.1 392.7,387.9 389.4,383.8 387.0,378.9 384.5,374.0 382.1,369.9 385.4,366.6 388.6,362.7 392.7,360.3 395.2,357.8 398.4,358.6 401.7,357.0" fill="#41b6c4" stroke="#41b6c4" stroke-width="1.0" stroke-linejoin="round"/>
<polygon points="405.7,333.3 409.8,334.1 413.9,332.5 417.2,330.0 419.6,326.8 422.1,323.5 424.5,320.2 426.1,318.6 428.6,321.0 431.0,323.5 433.5,326.8 435.1,330.0 436.8,332.5 439.2,336.6 440.0,341.5 440.8,346.4 443.3,350.5 446.9,356.6 448.0,356.4 445.6,358.9 448.0,361.3 447.2,365.4 448.8,369.5 446.4,371.1 442.3,372.8 438.2,373.6 437.4,376.9 434.1,378.5 430.8,380.1 428.4,378.5 424.3,376.9 421.0,373.6 418.6,369.5 416.1,365.4 412.9,361.3 408.8,358.9 403.9,356.4 399.0,356.4 401.7,357.0 398.4,358.6 395.2,357.8 396.0,352.9 394.3,348.0 395.2,343.1 397.6,339.0 401.7,335.8" fill="#2c7fb8" stroke="#2c7fb8" stroke-width="1.0" stroke-linejoin="round"/>
<polygon points="419.4,397.3 421.9,392.4 421.0,387.5 422.7,384.2 426.8,382.6 430.8,380.1 434.1,378.5 437.4,376.9 438.2,373.6 442.3,372.8 446.4,371.1 448.8,369.5 452.1,371.1 455.4,370.3 458.6,367.9 461.1,366.2 463.5,369.5 466.8,372.0 470.1,373.6 473.3,376.0 476.6,378.5 478.2,381.8 476.6,385.0 473.3,386.7 470.1,387.5 466.0,389.9 461.9,393.2 457.8,396.5 453.7,399.7 449.6,402.2 445.6,403.8 441.5,404.6 438.2,402.2 434.9,399.7 431.7,397.3 429.2,399.7 425.1,401.4 421.9,399.7" fill="#a1dab4" stroke="#a1dab4" stroke-width="1.0" stroke-linejoin="round"/>
<polygon points="420.4,255.8 424.5,254.2 428.6,251.8 431.9,253.4 435.1,256.7 439.2,258.3 443.3,259.1 448.2,259.9 452.3,261.6 456.4,264.0 459.6,264.8 460.4,269.5 462.9,272.8 464.5,276.9 466.1,280.9 467.8,285.0 467.0,289.9 466.1,294.0 463.7,297.3 458.8,298.1 453.9,298.9 449.0,297.3 444.1,296.5 440.0,298.1 437.6,299.8 432.7,299.0 427.8,297.4 423.7,295.7 419.6,293.3 416.3,291.6 416.3,291.8 417.2,286.9 416.3,282.0 415.5,277.1 413.1,273.0 414.7,269.7 418.0,265.7 419.6,260.8" fill="#41b6c4" stroke="#41b6c4" stroke-width="1.0" stroke-linejoin="round"/>
<polygon points="374.7,290.4 378.8,288.7 382.9,286.3 387.0,283.0 391.9,280.6 396.0,277.3 400.1,278.1 404.2,278.9 408.2,277.3 411.5,274.8 413.1,273.0 415.5,277.1 416.3,282.0 417.2,286.9 416.3,291.8 416.3,291.6 413.1,294.1 411.4,297.4 409.0,301.4 406.5,306.3 404.1,311.2 402.5,316.1 401.7,312.9 397.6,314.5 393.5,316.1 389.4,317.0 385.4,313.7 381.3,312.1 378.0,312.9 376.4,308.0 374.7,303.9 372.3,299.8 373.1,294.9 373.1,294.4" fill="#2c7fb8" stroke="#2c7fb8" stroke-width="1.0" stroke-linejoin="round"/>
<polygon points="402.5,316.1 404.1,311.2 406.5,306.3 409.0,301.4 411.4,297.4 413.1,294.1 416.3,291.6 419.6,293.3 423.7,295.7 427.8,297.4 432.7,299.0 437.6,299.8 440.0,302.3 443.3,305.5 445.8,309.6 447.4,313.7 448.2,317.8 444.1,319.4 440.8,321.0 438.4,322.7 436.8,325.9 435.1,330.0 433.5,326.8 431.0,323.5 428.6,321.0 426.1,318.6 424.5,320.2 422.1,323.5 419.6,326.8 417.2,330.0 413.9,332.5 409.8,334.1 405.7,333.3 403.3,328.4 402.5,322.7" fill="#41b6c4" stroke="#41b6c4" stroke-width="1.0" stroke-linejoin="round"/>
<polygon points="437.6,299.8 441.7,297.4 446.6,295.7 451.5,294.9 456.4,296.5 461.3,297.4 466.2,296.5 471.1,295.7 476.0,294.9 480.1,296.5 482.5,299.8 485.0,303.1 484.2,307.2 481.7,311.2 479.2,314.5 476.8,317.8 473.5,320.2 469.4,322.7 465.4,325.9 461.3,323.5 457.2,321.9 453.1,322.7 449.8,320.2 448.2,317.8 447.4,313.7 445.8,309.6 443.3,305.5 440.0,302.3" fill="#253494" stroke="#253494" stroke-width="1.0" stroke-linejoin="round"/>
<polygon points="448.2,317.8 449.8,320.2 453.1,322.7 457.2,321.9 461.3,323.5 465.4,325.9 467.0,330.0 468.6,334.1 470.3,338.2 468.6,342.3 467.0,346.4 467.8,350.5 466.2,354.5 467.0,355.4 464.5,356.2 459.6,357.1 454.7,358.7 449.8,357.9 446.9,356.6 443.3,350.5 440.8,346.4 440.0,341.5 439.2,336.6 436.8,332.5 435.1,330.0 436.8,325.9 438.4,322.7 440.8,321.0 444.1,319.4" fill="#253494" stroke="#253494" stroke-width="1.0" stroke-linejoin="round"/>
<polygon points="465.4,325.9 469.4,322.7 473.5,320.2 476.8,317.8 479.2,314.5 481.7,311.2 484.2,307.2 485.0,303.1 484.1,300.6 489.0,299.7 494.7,297.3 497.2,294.0 499.6,303.6 500.4,310.1 501.2,316.7 500.4,323.2 498.8,329.7 497.2,336.3 496.3,342.0 495.5,346.9 494.8,345.6 491.5,347.2 487.4,348.0 483.3,348.8 480.1,350.5 476.8,348.8 473.5,346.4 471.1,343.1 470.3,338.2 468.6,334.1 467.0,330.0" fill="#41b6c4" stroke="#41b6c4" stroke-width="1.0" stroke-linejoin="round"/>
<polygon points="461.2,264.6 462.1,259.7 461.2,254.8 462.1,250.7 465.3,251.5 470.2,253.2 475.1,254.8 479.2,256.4 480.0,261.3 479.2,266.2 480.8,271.1 482.5,276.0 483.3,280.1 485.8,283.4 489.0,285.8 492.3,288.3 496.4,289.9 497.2,294.0 494.7,297.3 489.0,299.7 484.1,300.6 482.5,295.7 478.4,294.8 474.3,295.7 470.2,294.8 466.1,294.0 467.0,289.9 467.8,285.0 466.1,280.9 464.5,276.9 462.9,272.8 460.4,269.5" fill="#41b6c4" stroke="#41b6c4" stroke-width="1.0" stroke-linejoin="round"/>
<polygon points="479.2,256.4 480.8,252.4 483.3,249.1 487.4,249.9 491.5,249.1 494.7,252.4 495.6,258.1 496.4,263.0 498.0,267.1 501.3,269.5 505.4,271.1 509.4,273.6 510.3,276.9 507.0,279.3 502.9,281.8 499.6,284.2 498.0,288.3 496.4,289.9 492.3,288.3 489.0,285.8 485.8,283.4 483.3,280.1 482.5,276.0 480.8,271.1 479.2,266.2 480.0,261.3" fill="#2c7fb8" stroke="#2c7fb8" stroke-width="1.0" stroke-linejoin="round"/>
<polygon points="497.2,294.0 496.4,289.9 498.0,288.3 499.6,284.2 502.9,281.8 507.0,279.3 510.3,276.9 512.7,273.6 515.2,271.1 517.6,269.5 520.1,272.0 522.5,276.0 525.0,280.1 529.0,281.5 531.5,285.6 534.7,288.9 538.0,290.5 539.6,288.1 542.9,289.7 545.4,292.2 547.0,295.4 546.2,299.5 547.8,302.8 550.3,305.2 551.9,309.3 554.3,313.4 553.5,316.7 550.3,317.5 546.2,318.3 542.9,319.9 539.6,322.4 536.4,324.0 534.7,325.7 530.7,324.8 526.6,322.4 524.1,319.1 524.9,314.2 524.1,310.1 520.8,308.5 516.8,307.7 513.5,305.2 511.9,302.0 510.2,299.5 506.1,297.9 502.1,297.1 498.8,297.9" fill="#253494" stroke="#253494" stroke-width="1.0" stroke-linejoin="round"/>
<polygon points="446.9,356.6 449.8,357.9 454.7,358.7 459.6,357.1 464.5,356.2 467.0,355.4 469.4,351.3 467.8,350.5 467.0,346.4 468.6,342.3 470.3,338.2 471.1,343.1 473.5,346.4 472.7,348.9 476.8,350.5 480.8,349.7 484.9,348.1 489.0,347.3 493.1,348.9 495.6,352.2 497.2,356.2 498.8,360.3 501.3,364.4 498.8,366.9 495.6,369.3 493.9,373.4 493.1,377.5 489.0,379.1 487.4,381.6 484.9,384.8 482.5,388.1 479.2,390.6 475.9,389.7 474.3,387.3 476.8,383.2 478.4,379.1 475.9,375.8 471.9,373.4 468.6,370.1 464.5,367.7 461.2,366.9 458.8,369.3 455.5,370.9 451.4,369.3 449.0,366.0 445.7,363.6" fill="#2c7fb8" stroke="#2c7fb8" stroke-width="1.0" stroke-linejoin="round"/>
<polygon points="498.8,297.9 502.1,297.1 506.1,297.9 510.2,299.5 511.9,302.0 513.5,305.2 516.8,307.7 520.8,308.5 524.1,310.1 524.9,314.2 524.1,319.1 526.6,322.4 530.7,324.8 534.7,325.7 535.3,326.1 532.0,331.0 529.5,333.5 528.7,336.8 526.3,340.0 523.0,341.7 523.0,344.4 527.1,345.8 530.4,349.0 531.2,352.3 529.5,355.6 530.7,353.0 526.6,355.4 523.3,356.2 520.1,354.6 516.0,353.0 512.7,350.5 509.4,349.7 505.4,348.9 501.3,350.5 498.0,349.7 495.6,352.2 495.5,346.9 496.3,342.0 497.2,336.3 498.8,329.7 500.4,323.2 501.2,316.7 500.4,310.1 499.6,303.6" fill="#2c7fb8" stroke="#2c7fb8" stroke-width="1.0" stroke-linejoin="round"/>
<polygon points="495.6,352.2 498.0,349.7 501.3,350.5 505.4,348.9 509.4,349.7 512.7,350.5 516.0,353.0 520.1,354.6 523.3,356.2 525.0,359.5 527.4,363.6 528.2,367.7 529.1,371.8 531.5,375.0 534.8,376.7 532.3,379.9 528.2,379.1 523.3,378.3 518.4,376.7 514.3,375.8 510.3,374.2 507.0,371.8 503.7,369.3 499.6,368.5 495.6,369.3 498.8,366.9 501.3,364.4 498.8,360.3 497.2,356.2" fill="#a1dab4" stroke="#a1dab4" stroke-width="1.0" stroke-linejoin="round"/>
<polygon points="505.4,341.9 507.3,342.7 508.3,344.8 507.3,346.9 505.4,347.7 503.4,346.9 502.4,344.8 503.4,342.7" fill="#a1dab4" stroke="#a1dab4" stroke-width="1.0" stroke-linejoin="round"/>
<polygon points="482.5,388.1 484.9,384.8 487.4,381.6 489.0,379.1 493.1,377.5 493.9,373.4 495.6,369.3 499.6,368.5 503.7,369.3 507.0,371.8 510.3,374.2 514.3,375.8 518.4,376.7 523.3,378.3 528.2,379.1 532.3,379.9 535.5,378.1 533.9,383.0 533.1,387.9 534.7,392.0 533.9,396.0 535.5,400.1 534.7,404.2 531.4,403.4 527.4,401.8 523.3,400.1 520.0,398.5 520.1,397.9 516.0,396.3 511.9,394.6 507.8,395.5 504.5,393.0 502.1,396.3 497.2,397.1 493.1,395.5 495.6,393.0 492.3,391.4 487.4,390.6" fill="#41b6c4" stroke="#41b6c4" stroke-width="1.0" stroke-linejoin="round"/>
<polygon points="535.5,378.1 538.8,375.6 542.9,376.4 547.0,377.3 551.0,375.6 555.1,374.0 560.0,373.2 564.1,372.4 568.2,371.5 569.8,374.0 572.3,375.6 575.6,378.9 578.0,381.3 577.2,384.6 574.7,387.1 572.3,390.3 570.7,393.6 569.8,396.9 569.0,400.1 565.8,401.8 561.7,403.4 558.4,405.8 554.3,406.7 551.0,409.1 547.8,407.5 544.5,409.9 540.4,409.9 537.2,407.5 534.7,404.2 535.5,400.1 533.9,396.0 534.7,392.0 533.1,387.9 533.9,383.0" fill="#41b6c4" stroke="#41b6c4" stroke-width="1.0" stroke-linejoin="round"/>
<polygon points="550.0,306.5 554.9,305.7 558.1,306.5 562.2,304.9 566.3,308.2 568.8,312.3 572.0,315.5 576.1,318.0 578.6,321.2 579.4,324.5 576.1,327.0 573.7,330.2 571.2,332.7 567.9,334.3 565.5,336.8 564.7,339.2 561.4,338.4 557.3,337.6 553.2,339.2 552.4,341.7 549.1,339.2 545.9,338.4 542.6,340.8 540.2,343.3 539.3,346.6 537.7,349.8 534.4,349.0 531.2,349.8 529.5,347.4 527.1,345.8 523.0,344.4 523.0,341.7 526.3,340.0 528.7,336.8 529.5,333.5 532.0,331.0 535.3,326.1 536.9,324.5 540.2,322.9 543.4,320.4 546.7,318.8 550.0,317.6 553.6,316.7 554.4,313.4 551.9,309.3" fill="#a1dab4" stroke="#a1dab4" stroke-width="1.0" stroke-linejoin="round"/>
<polygon points="539.3,346.6 540.2,343.3 542.6,340.8 545.9,338.4 549.1,339.2 552.4,341.7 553.2,339.2 557.3,337.6 561.4,338.4 564.7,339.2 565.5,336.8 567.9,334.3 571.2,332.7 573.7,330.2 576.1,327.0 576.9,331.0 575.3,335.1 574.5,340.0 572.8,344.1 570.4,348.2 569.6,353.1 571.2,358.0 573.7,362.1 576.1,365.4 572.0,366.2 569.6,368.6 568.8,371.9 565.5,371.9 561.4,372.7 557.3,373.5 553.2,374.3 549.1,375.2 545.1,376.0 541.0,376.8 536.9,375.2 532.8,373.5 529.5,370.3 527.9,366.2 527.1,362.1 525.0,359.5 523.5,356.4 526.6,355.4 529.5,355.6 531.2,355.6 531.2,352.3 530.4,349.0 533.6,349.0 537.7,349.8" fill="#a1dab4" stroke="#a1dab4" stroke-width="1.0" stroke-linejoin="round"/>
<polygon points="572.8,344.1 576.9,344.9 581.8,347.4 586.7,349.0 591.6,349.8 596.5,350.7 601.4,350.7 603.9,353.1 603.1,357.2 601.4,361.3 599.0,365.4 598.4,369.1 596.0,371.5 592.7,374.0 589.4,375.6 586.2,378.9 583.7,381.3 580.5,383.0 578.0,381.3 575.6,378.9 572.3,375.6 569.8,374.0 568.2,371.5 568.8,371.9 569.6,368.6 572.0,366.2 576.1,365.4 573.7,362.1 571.2,358.0 569.6,353.1 570.4,348.2" fill="#a1dab4" stroke="#a1dab4" stroke-width="1.0" stroke-linejoin="round"/>
<polygon points="536.1,270.9 539.3,273.4 543.4,274.2 547.5,275.8 550.8,275.0 553.2,271.8 555.7,268.5 558.1,266.0 559.8,268.5 563.0,271.8 566.3,274.2 569.6,275.0 572.8,277.5 574.5,281.6 576.1,285.7 579.4,288.1 581.0,291.4 580.2,295.5 577.7,298.7 573.7,301.2 569.6,302.8 565.5,303.6 561.4,305.3 558.1,306.9 555.7,306.1 552.4,304.4 549.1,302.0 546.7,299.5 547.5,296.3 545.9,293.0 543.4,290.6 540.2,288.9 536.9,289.7 534.4,287.3 532.0,284.0 529.5,281.6 531.2,277.5 533.6,274.2" fill="#2c7fb8" stroke="#2c7fb8" stroke-width="1.0" stroke-linejoin="round"/>
<polygon points="533.6,257.1 537.7,253.8 542.6,251.3 547.5,248.9 548.3,244.8 552.4,243.2 556.5,241.5 561.4,241.5 565.5,243.2 567.9,246.4 567.1,250.5 570.4,253.8 572.8,257.9 574.5,262.0 573.7,266.0 570.4,268.5 567.9,271.8 566.3,274.2 563.0,271.8 559.8,268.5 558.1,266.0 555.7,268.5 553.2,271.8 550.8,275.0 547.5,275.8 543.4,274.2 539.3,273.4 536.1,270.9 534.4,266.9 533.6,262.0" fill="#2c7fb8" stroke="#2c7fb8" stroke-width="1.0" stroke-linejoin="round"/>
<polygon points="587.0,404.7 589.3,405.8 590.0,411.5 590.4,417.1 592.7,421.6 594.9,427.2 596.0,433.9 596.7,440.7 596.0,447.4 595.4,454.2 593.8,460.9 592.7,467.6 591.5,474.4 589.3,480.0 587.0,484.5 583.7,482.2 579.2,480.0 575.8,477.8 572.4,475.5 570.2,471.0 571.3,466.5 567.9,463.1 566.8,457.5 564.6,453.0 565.7,448.5 562.3,445.2 561.2,439.6 563.4,435.1 562.3,430.6 566.8,427.2 571.3,423.8 575.8,421.6 580.3,419.3 584.8,417.1 585.9,411.5" fill="#dcdcdc" stroke="#dcdcdc" stroke-width="1.0" stroke-linejoin="round"/>
<polygon points="385.9,21.2 394.6,15.4 402.6,12.5 405.8,19.9 409.5,26.1 417.0,29.9 423.2,32.4 426.9,37.3 431.9,42.3 434.4,48.5 434.9,53.0 426.9,58.5 420.7,56.0 414.5,53.5 408.3,51.0 402.1,52.3 395.8,48.5 389.6,46.1 385.9,44.8" fill="none" stroke="#fff" stroke-opacity="0.75" stroke-width="0.7" stroke-linejoin="round"/>
<polygon points="385.9,44.8 389.6,46.1 395.8,48.5 402.1,52.3 408.3,51.0 414.5,53.5 420.7,56.0 426.9,58.5 434.9,53.0 436.9,62.2 435.6,69.7 434.4,78.4 426.9,78.4 419.5,79.6 412.0,82.1 404.5,79.6 397.1,78.4 390.9,77.2 390.9,73.4 387.1,66.0 380.4,58.5 383.4,51.0" fill="none" stroke="#fff" stroke-opacity="0.75" stroke-width="0.7" stroke-linejoin="round"/>
<polygon points="402.6,12.5 409.0,10.5 414.5,18.7 420.7,21.2 424.4,26.1 429.4,27.4 431.9,32.4 438.1,34.9 441.9,41.1 449.3,42.3 454.3,44.8 459.3,46.1 465.0,46.8 468.7,49.8 471.2,53.5 471.9,58.5 468.7,61.7 465.0,62.7 460.0,62.7 455.0,62.2 451.8,60.2 444.3,61.0 438.1,61.0 434.9,53.0 434.4,48.5 431.9,42.3 426.9,37.3 423.2,32.4 417.0,29.9 409.5,26.1 405.8,19.9" fill="none" stroke="#fff" stroke-opacity="0.45" stroke-width="0.7" stroke-linejoin="round"/>
<polygon points="380.4,58.5 387.1,66.0 390.9,73.4 390.9,77.2 389.6,90.8 385.9,92.1 379.7,90.8 371.0,94.6 366.0,98.3 362.2,94.6 354.8,92.1 347.3,89.6 343.6,88.3 338.6,84.6 339.9,79.6 347.3,74.7 359.8,69.7 372.2,63.5" fill="none" stroke="#fff" stroke-opacity="0.8" stroke-width="0.7" stroke-linejoin="round"/>
<polygon points="472.4,63.5 479.9,62.2 486.1,58.5 488.6,54.8 491.1,54.0 492.3,57.2 491.8,63.5 494.8,68.4 498.5,72.2 503.5,75.9 507.2,78.4 508.5,82.1 503.5,83.4 501.0,87.1 501.0,94.6 499.8,100.8 492.3,99.5 484.9,98.3 477.4,95.8 469.9,92.1 466.2,90.8 467.4,84.6 469.9,78.4 472.4,70.9" fill="none" stroke="#fff" stroke-opacity="0.8" stroke-width="0.7" stroke-linejoin="round"/>
<polygon points="574.4,141.9 579.4,143.1 584.4,145.6 586.9,148.1 586.9,154.3 585.6,161.8 584.4,169.2 585.6,176.7 583.1,182.9 578.2,186.7 574.4,182.9 573.2,178.0 571.9,173.0 568.2,170.5 564.5,169.2 565.7,163.0 568.2,156.8 570.7,149.3" fill="none" stroke="#fff" stroke-opacity="0.8" stroke-width="0.7" stroke-linejoin="round"/>
<polygon points="562.0,170.5 564.5,169.2 568.2,170.5 571.9,173.0 573.2,178.0 571.9,182.9 568.2,184.7 564.5,182.2 561.5,179.2 560.7,174.2" fill="none" stroke="#fff" stroke-opacity="0.75" stroke-width="0.7" stroke-linejoin="round"/>
<polygon points="529.6,164.3 533.4,159.8 538.3,161.3 542.1,163.8 547.1,162.3 552.0,163.5 557.0,166.8 562.0,170.5 560.7,174.2 561.5,179.2 558.3,182.2 553.3,184.2 548.3,186.7 543.3,189.2 538.3,192.9 533.4,196.6 527.3,198.3 523.3,198.3 519.4,197.7 518.1,194.4 516.8,190.5 515.5,186.6 516.8,182.6 515.5,178.7 518.8,177.4 522.7,176.8 524.6,174.2 525.3,170.9 526.6,167.6" fill="none" stroke="#fff" stroke-opacity="0.8" stroke-width="0.7" stroke-linejoin="round"/>
<polygon points="528.4,197.9 533.4,196.6 538.3,192.9 543.3,189.2 548.3,186.7 553.3,184.2 558.3,182.2 561.5,179.2 564.5,182.2 568.2,184.7 571.9,183.7 570.7,187.9 567.0,191.6 569.4,192.9 565.7,197.9 562.0,202.8 558.3,207.8 554.5,211.5 552.0,216.5 550.8,221.5 548.3,225.2 544.6,227.7 540.8,230.2 538.3,224.0 539.6,219.0 535.9,214.0 532.1,209.1 529.6,204.1" fill="none" stroke="#fff" stroke-opacity="0.8" stroke-width="0.7" stroke-linejoin="round"/>
<polygon points="514.7,85.7 522.1,83.3 526.1,85.7 528.6,89.0 529.4,94.7 531.0,101.2 532.7,107.0 535.9,111.9 540.8,115.9 547.4,120.8 555.6,125.8 563.7,129.0 570.3,132.3 565.4,134.7 558.8,136.4 552.3,138.0 545.8,139.6 539.2,141.3 535.1,142.1 531.0,140.5 528.6,136.4 526.1,132.3 527.0,126.6 526.1,120.8 527.0,115.1 526.1,109.4 525.3,102.9 524.5,96.3 522.1,92.3 518.0,89.8 514.7,85.7" fill="none" stroke="#fff" stroke-opacity="0.75" stroke-width="0.7" stroke-linejoin="round"/>
<polygon points="528.6,89.0 532.7,87.4 537.6,85.7 544.1,87.4 549.0,89.8 551.5,94.7 553.9,98.8 558.8,101.2 562.1,98.8 567.0,101.2 571.9,102.9 576.8,100.4 581.7,101.2 585.0,104.5 584.2,108.6 580.1,110.2 575.2,107.0 570.3,106.1 567.8,109.4 565.4,111.9 568.6,115.1 571.9,118.4 574.3,121.7 575.2,126.6 572.7,130.7 570.3,132.3 563.7,129.0 555.6,125.8 547.4,120.8 540.8,115.9 535.9,111.9 532.7,107.0 531.0,101.2 529.4,94.7 528.6,89.0" fill="none" stroke="#fff" stroke-opacity="0.8" stroke-width="0.7" stroke-linejoin="round"/>
<polygon points="565.4,111.9 567.8,109.4 570.3,106.1 575.2,107.0 580.1,110.2 584.2,108.6 589.1,106.1 594.8,104.5 598.9,106.1 604.3,107.0 603.0,112.0 599.3,117.0 595.6,121.9 593.8,126.9 593.1,127.0 591.3,134.4 589.3,141.9 586.9,148.1 584.4,145.6 579.4,143.1 574.4,142.6 572.7,141.3 571.1,137.2 570.3,132.3 572.7,130.7 575.2,126.6 574.3,121.7 571.9,118.4 568.6,115.1" fill="none" stroke="#fff" stroke-opacity="0.45" stroke-width="0.7" stroke-linejoin="round"/>
<polygon points="503.5,83.4 508.5,82.1 512.2,83.4 514.7,85.7 518.0,89.8 522.1,92.3 524.5,96.3 525.3,102.9 526.1,109.4 527.0,115.1 526.1,120.8 527.0,126.6 526.1,132.3 528.6,136.4 524.5,138.8 519.6,140.8 515.5,142.1 509.8,137.2 500.0,131.5 497.3,126.9 496.1,121.9 497.3,117.0 499.8,113.2 498.5,107.0 499.8,100.8 501.0,94.6 501.0,87.1" fill="none" stroke="#fff" stroke-opacity="0.72" stroke-width="0.7" stroke-linejoin="round"/>
<polygon points="515.5,142.1 519.6,140.8 524.5,138.8 528.6,136.4 531.0,140.5 535.1,142.1 539.2,141.3 545.8,139.6 552.3,138.0 558.8,136.4 565.4,134.7 570.3,132.3 571.1,137.2 572.7,141.3 574.4,142.6 570.7,149.3 568.2,156.8 565.7,163.0 564.5,169.2 562.0,170.5 557.0,166.8 552.0,163.5 547.1,162.3 542.1,163.8 538.3,161.3 533.4,159.8 529.6,164.3 525.9,158.1 524.7,151.8 520.9,146.9" fill="none" stroke="#fff" stroke-opacity="0.8" stroke-width="0.7" stroke-linejoin="round"/>
<polygon points="390.9,77.2 397.1,78.4 404.5,79.6 412.0,82.1 419.5,79.6 426.9,78.4 434.4,78.4 435.6,87.1 433.2,95.8 432.9,95.0 434.5,99.9 436.2,104.0 437.0,108.1 433.7,108.9 428.8,109.7 423.9,110.5 419.0,108.9 414.9,105.6 409.2,104.0 402.7,104.8 396.1,104.0 390.4,103.2 387.2,105.6 390.9,98.3 389.6,90.8" fill="none" stroke="#fff" stroke-opacity="0.8" stroke-width="0.7" stroke-linejoin="round"/>
<polygon points="347.3,89.6 354.8,92.1 362.2,94.6 366.0,98.3 371.0,94.6 379.7,90.8 385.9,92.1 389.6,90.8 390.9,98.3 387.2,105.6 386.3,108.9 382.3,110.5 381.4,113.8 384.0,116.3 382.3,118.0 379.9,121.2 377.4,124.5 373.3,126.1 368.4,127.8 363.5,129.4 360.3,131.9 358.6,128.6 356.2,125.3 352.9,122.1 350.5,118.8 347.2,116.3 346.4,111.4 344.7,106.5 345.6,101.6 344.8,94.6" fill="none" stroke="#fff" stroke-opacity="0.8" stroke-width="0.7" stroke-linejoin="round"/>
<polygon points="434.9,53.0 438.1,61.0 444.3,61.0 451.8,60.2 455.0,62.2 460.0,62.7 465.0,62.7 468.7,61.7 472.4,63.5 472.4,70.9 469.9,78.4 467.4,84.6 466.2,90.8 462.5,93.3 457.5,95.8 458.2,95.0 456.6,96.6 455.0,99.9 454.2,104.8 453.3,109.7 451.7,114.6 448.4,119.5 446.8,122.0 445.2,121.1 441.9,116.2 439.4,111.3 437.0,108.1 436.2,104.0 434.5,99.9 432.9,95.0 433.2,95.8 435.6,87.1 434.4,78.4 435.6,69.7 436.9,62.2" fill="none" stroke="#fff" stroke-opacity="0.8" stroke-width="0.7" stroke-linejoin="round"/>
<polygon points="387.2,105.6 390.4,103.2 396.1,104.0 402.7,104.8 409.2,104.0 414.9,105.6 419.0,108.9 419.0,113.8 417.4,116.2 413.3,116.6 409.2,115.4 405.1,112.5 400.2,110.8 394.5,110.8 389.6,110.0 386.3,109.4" fill="none" stroke="#fff" stroke-opacity="0.45" stroke-width="0.7" stroke-linejoin="round"/>
<polygon points="382.3,110.5 386.3,109.4 389.6,110.0 394.5,110.8 400.2,110.8 405.1,112.5 406.8,116.2 405.1,119.5 406.8,123.6 408.4,126.9 405.1,128.5 401.9,131.8 399.4,135.8 397.8,140.8 394.5,139.1 391.2,135.0 388.8,130.9 386.3,126.9 385.5,122.0 383.9,117.1 381.4,113.8" fill="none" stroke="#fff" stroke-opacity="0.8" stroke-width="0.7" stroke-linejoin="round"/>
<polygon points="405.9,116.2 409.2,115.4 413.3,116.6 414.1,119.5 411.7,122.0 410.0,125.2 408.4,126.9 406.8,123.6 405.1,119.5" fill="none" stroke="#fff" stroke-opacity="0.8" stroke-width="0.7" stroke-linejoin="round"/>
<polygon points="411.7,122.0 414.1,119.5 417.4,120.3 418.2,123.6 416.6,127.2 412.5,127.2 410.0,125.2" fill="none" stroke="#fff" stroke-opacity="0.45" stroke-width="0.7" stroke-linejoin="round"/>
<polygon points="401.9,131.8 405.1,128.5 408.4,126.9 412.5,127.2 416.6,127.2 417.4,131.8 416.6,137.5 415.8,142.4 414.1,147.3 409.2,146.5 405.1,148.1 401.0,148.9 398.6,144.8 397.8,140.8 399.4,135.8" fill="none" stroke="#fff" stroke-opacity="0.8" stroke-width="0.7" stroke-linejoin="round"/>
<polygon points="419.0,108.9 423.9,110.5 428.8,109.7 433.7,108.9 437.0,108.1 439.4,111.3 441.9,116.2 445.2,121.1 448.4,124.4 447.6,129.3 448.4,133.4 446.8,137.5 446.0,142.4 441.9,144.0 437.0,145.7 433.7,148.9 431.3,153.0 427.2,155.5 422.3,156.3 418.2,157.9 414.9,157.1 415.8,152.2 414.1,147.3 415.8,142.4 416.6,137.5 417.4,131.8 416.6,127.2 418.2,123.6 417.4,120.3 417.4,116.2 419.0,113.8" fill="none" stroke="#fff" stroke-opacity="0.8" stroke-width="0.7" stroke-linejoin="round"/>
<polygon points="172.4,126.3 175.3,124.9 178.7,124.4 182.2,122.9 185.6,121.9 189.5,121.4 193.5,120.9 197.4,121.4 200.8,120.9 204.2,122.4 206.2,120.9 209.1,120.9 210.6,123.4 211.1,126.8 211.6,130.7 212.1,134.7 213.1,138.6 214.0,142.5 213.5,146.4 212.1,148.4 209.1,148.9 206.7,149.4 206.2,151.8 207.7,154.8 209.6,156.7 212.1,158.2 213.5,161.1 212.1,165.1 207.6,164.4 202.7,163.6 198.4,161.1 194.4,161.6 191.0,162.1 189.0,161.6 187.1,163.6 183.6,164.1 183.5,160.2 182.7,155.7 180.7,153.3 176.8,152.3 172.4,151.8 172.4,150.6 179.7,149.9 185.6,149.2 186.9,147.2 185.6,144.3 182.2,142.5 178.7,143.0 178.0,141.0 179.2,139.1 183.2,139.1 189.0,140.7 189.5,139.8 182.9,137.3 186.8,134.2 186.1,133.2 180.7,136.6 176.3,136.8 172.4,136.1 171.4,134.7 171.4,131.7 172.9,129.3" fill="none" stroke="#fff" stroke-opacity="0.8" stroke-width="0.7" stroke-linejoin="round"/>
<polygon points="210.8,122.0 213.3,117.1 217.4,115.4 222.3,116.2 227.2,114.6 231.3,116.2 233.7,120.3 235.4,125.2 237.8,129.3 241.9,131.8 246.0,128.5 250.1,126.9 255.0,126.0 259.9,127.7 264.0,129.3 266.4,133.4 267.2,138.3 265.6,143.2 262.3,145.7 259.1,148.1 255.8,150.6 251.7,149.7 247.6,152.2 243.5,153.0 239.4,151.4 235.4,149.7 231.3,148.9 227.2,147.3 222.3,148.1 217.4,147.3 213.3,148.1 210.8,147.3 212.8,142.4 213.3,136.7 212.5,131.8 211.7,126.9" fill="none" stroke="#fff" stroke-opacity="0.72" stroke-width="0.7" stroke-linejoin="round"/>
<polygon points="206.8,148.9 210.8,147.3 213.3,148.1 217.4,147.3 222.3,148.1 227.2,147.3 231.3,148.9 235.4,149.7 239.4,151.4 243.5,153.0 247.6,152.2 251.7,149.7 255.8,150.6 254.5,158.3 257.0,160.8 259.4,164.0 261.0,168.1 260.2,173.0 261.0,177.1 259.4,177.0 257.8,180.2 255.4,183.5 252.1,185.1 246.4,185.6 243.9,183.5 240.7,182.7 237.4,181.9 236.6,179.4 233.3,177.8 230.0,178.6 226.8,181.0 223.5,181.9 225.1,179.4 222.7,176.1 218.6,172.9 214.5,169.6 212.1,166.3 214.5,163.9 215.3,159.8 211.2,156.5 208.0,153.3 205.9,152.2" fill="none" stroke="#fff" stroke-opacity="0.8" stroke-width="0.7" stroke-linejoin="round"/>
<polygon points="265.1,128.1 268.4,125.6 270.0,128.9 274.9,129.7 280.7,128.9 282.3,133.0 284.7,135.4 289.6,134.6 294.5,136.2 296.2,136.2 296.2,142.0 297.0,147.7 296.2,154.2 295.4,159.9 292.9,163.2 291.3,167.3 289.6,172.2 285.6,171.4 282.3,169.7 278.2,171.4 274.1,173.8 269.2,175.5 265.1,176.3 261.0,177.1 260.2,173.0 261.0,168.1 259.4,164.0 257.0,160.8 254.5,158.3 254.8,152.9 257.8,150.1 260.2,146.9 264.3,145.2 266.8,141.1 265.9,136.2 265.1,132.2" fill="none" stroke="#fff" stroke-opacity="0.8" stroke-width="0.7" stroke-linejoin="round"/>
<polygon points="269.6,73.9 272.9,74.7 277.0,77.2 282.7,75.5 288.4,75.5 292.5,77.2 291.7,80.4 293.3,85.3 294.9,90.2 296.6,94.3 299.0,98.4 301.5,101.7 302.3,106.6 300.7,111.5 298.2,115.6 296.6,118.8 299.0,122.9 303.1,125.4 306.4,128.6 306.4,132.7 303.9,135.2 299.0,136.0 294.9,135.2 290.8,136.0 287.6,137.6 284.3,135.2 281.9,131.9 281.0,127.8 280.2,123.7 279.4,118.8 280.2,114.7 281.0,109.0 279.4,104.1 277.8,99.2 276.1,94.3 274.5,89.4 272.9,84.5 272.1,79.6" fill="none" stroke="#fff" stroke-opacity="0.8" stroke-width="0.7" stroke-linejoin="round"/>
<polygon points="296.6,94.3 300.7,92.7 305.6,93.5 310.5,94.3 315.4,95.1 320.3,95.9 325.2,96.8 330.1,95.9 335.0,94.3 339.9,92.7 344.0,91.9 344.8,96.8 344.0,101.7 345.6,106.6 346.4,111.5 344.8,114.7 340.7,115.6 335.8,116.4 330.9,117.2 326.0,118.0 321.1,118.8 316.2,119.6 311.3,121.3 307.2,122.9 303.1,125.4 299.0,122.9 296.6,118.8 298.2,115.6 300.7,111.5 302.3,106.6 301.5,101.7 299.0,98.4" fill="none" stroke="#fff" stroke-opacity="0.75" stroke-width="0.7" stroke-linejoin="round"/>
<polygon points="303.9,124.5 306.3,122.9 309.6,120.4 314.5,119.6 319.4,118.8 324.3,119.6 329.2,118.0 334.1,116.3 339.0,114.7 343.9,115.5 347.2,116.3 350.5,118.8 352.9,122.1 356.2,125.3 358.6,128.6 360.3,131.9 362.7,135.1 364.3,139.2 363.5,143.3 360.3,146.6 357.8,149.0 359.4,153.1 356.2,153.1 352.9,149.8 350.5,147.4 347.2,144.9 343.9,140.8 340.7,139.2 337.4,140.8 333.3,142.5 330.0,143.3 328.4,140.0 326.8,136.8 323.5,135.1 319.4,135.9 314.5,137.6 309.6,139.2 305.5,138.4 304.7,134.3 306.3,130.2 305.5,127.0" fill="none" stroke="#fff" stroke-opacity="0.45" stroke-width="0.7" stroke-linejoin="round"/>
<polygon points="296.2,136.2 300.3,135.4 304.3,136.2 305.5,138.4 309.6,139.2 314.5,137.6 319.4,135.9 323.5,135.1 326.8,136.8 328.4,140.0 330.0,143.3 328.4,147.4 325.9,150.7 323.5,154.7 322.7,159.6 321.9,163.7 319.4,167.0 318.6,171.1 315.0,173.0 310.1,173.0 305.2,173.0 300.3,172.2 295.4,172.2 289.6,172.2 291.3,167.3 292.9,163.2 295.4,159.9 296.2,154.2 297.0,147.7 296.2,142.0" fill="none" stroke="#fff" stroke-opacity="0.8" stroke-width="0.7" stroke-linejoin="round"/>
<polygon points="261.0,177.1 265.1,176.3 269.2,175.5 274.1,173.8 278.2,171.4 282.3,169.7 285.6,171.4 289.6,172.2 291.9,177.2 293.5,182.1 295.1,186.1 296.8,190.2 292.7,191.9 288.6,193.5 287.8,196.8 290.2,200.8 289.4,205.8 286.1,208.2 282.9,209.0 281.2,213.1 278.8,212.3 277.2,215.6 273.9,217.2 269.8,215.6 266.5,212.3 263.3,209.8 260.3,212.1 261.1,208.8 257.8,206.4 255.4,203.9 254.5,200.7 257.0,197.4 252.1,196.6 247.2,195.8 243.9,194.1 244.7,190.0 246.4,185.6 252.1,185.1 255.4,183.5 257.8,180.2 259.4,177.0" fill="none" stroke="#fff" stroke-opacity="0.75" stroke-width="0.7" stroke-linejoin="round"/>
<polygon points="289.4,172.3 295.1,173.9 300.8,174.7 307.4,173.9 313.9,173.1 318.8,172.3 322.9,175.5 327.8,178.0 332.7,180.4 336.8,182.9 340.1,184.5 337.6,189.4 336.0,194.3 334.3,199.2 332.7,203.3 331.9,205.8 328.6,209.0 324.5,210.7 320.5,209.8 315.6,211.5 310.7,212.3 305.8,213.1 300.8,211.5 295.9,209.8 291.9,208.2 289.4,205.8 290.2,200.8 287.8,196.8 288.6,193.5 292.7,191.9 296.8,190.2 295.1,186.1 293.5,182.1 291.9,177.2" fill="none" stroke="#fff" stroke-opacity="0.72" stroke-width="0.7" stroke-linejoin="round"/>
<polygon points="330.0,143.3 333.3,142.5 337.4,140.8 340.7,139.2 343.9,140.8 347.2,144.9 350.5,147.4 352.9,149.8 356.2,153.1 359.4,153.1 358.6,152.9 360.2,157.0 359.4,161.9 358.6,166.8 356.1,171.7 352.9,175.8 351.2,178.2 346.3,180.7 342.3,183.1 338.2,183.9 336.8,182.9 332.7,180.4 327.8,178.0 322.9,175.5 318.8,172.3 319.6,168.2 321.3,164.1 322.7,159.6 323.5,154.7 325.9,150.7 328.4,147.4" fill="none" stroke="#fff" stroke-opacity="0.72" stroke-width="0.7" stroke-linejoin="round"/>
<polygon points="360.3,131.9 362.7,135.1 364.3,139.2 363.5,143.3 360.3,146.6 357.8,149.0 359.4,153.1 358.6,152.9 360.2,157.0 363.5,158.6 367.6,160.2 370.8,163.5 374.9,165.1 379.0,164.3 383.1,162.7 385.6,160.2 389.6,159.4 393.7,157.8 396.2,154.5 397.0,150.4 398.6,147.2 398.6,144.8 397.8,140.8 394.5,139.1 391.2,135.0 388.8,130.9 386.3,126.9 385.5,122.0 383.9,117.1 381.4,113.8 384.0,116.3 382.3,118.0 379.9,121.2 377.4,124.5 373.3,126.1 368.4,127.8 363.5,129.4" fill="none" stroke="#fff" stroke-opacity="0.72" stroke-width="0.7" stroke-linejoin="round"/>
<polygon points="383.1,162.7 385.6,160.2 389.6,159.4 393.7,157.8 396.2,154.5 397.0,150.4 398.6,147.2 401.0,148.9 405.1,148.1 409.2,146.5 414.1,147.3 415.8,152.2 414.9,157.1 418.2,157.9 422.3,156.3 427.2,155.5 431.3,153.0 434.7,158.1 436.3,163.0 434.7,167.9 431.4,172.0 428.2,176.0 429.8,180.9 429.0,186.7 424.8,188.0 419.9,186.4 415.0,184.7 410.1,183.1 407.2,182.9 403.9,186.1 401.9,181.5 397.0,180.7 392.9,181.5 390.5,179.0 386.4,175.8 383.1,172.5 383.9,167.6" fill="none" stroke="#fff" stroke-opacity="0.72" stroke-width="0.7" stroke-linejoin="round"/>
<polygon points="360.2,157.0 363.5,158.6 367.6,160.2 370.8,163.5 374.9,165.1 379.0,164.3 383.1,162.7 383.9,167.6 383.1,172.5 386.4,175.8 390.5,179.0 392.9,181.5 397.0,180.7 401.9,181.5 403.9,186.1 404.7,191.0 402.3,195.1 399.0,198.4 394.9,200.8 392.5,204.9 390.0,202.5 386.4,201.9 382.3,200.3 378.2,202.7 375.8,205.2 373.3,201.9 370.8,197.0 369.2,192.1 368.4,187.2 367.6,182.3 364.3,180.7 360.2,179.0 356.1,178.2 351.2,178.2 352.9,175.8 356.1,171.7 358.6,166.8 359.4,161.9" fill="none" stroke="#fff" stroke-opacity="0.72" stroke-width="0.7" stroke-linejoin="round"/>
<polygon points="351.2,178.2 356.1,178.2 360.2,179.0 364.3,180.7 367.6,182.3 368.4,187.2 369.2,192.1 370.8,197.0 373.3,201.9 375.8,205.2 374.5,209.0 370.4,212.3 366.3,214.7 364.7,219.6 363.9,224.5 361.4,229.4 359.0,225.4 356.5,221.3 353.3,216.4 350.0,213.1 346.6,216.4 341.7,214.7 337.6,212.3 334.3,209.0 331.9,205.8 332.7,203.3 334.3,199.2 336.0,194.3 337.6,189.4 340.1,184.5 338.2,183.9 342.3,183.1 346.3,180.7" fill="none" stroke="#fff" stroke-opacity="0.72" stroke-width="0.7" stroke-linejoin="round"/>
<polygon points="455.1,96.4 460.0,93.2 464.9,92.4 469.8,94.0 474.7,95.6 479.6,98.1 484.5,99.7 490.3,100.5 495.2,100.5 498.4,101.3 500.1,106.2 499.2,111.1 498.4,116.0 496.8,120.9 498.4,125.8 496.8,129.1 493.5,131.6 490.3,134.8 485.4,135.7 480.5,134.0 477.2,130.8 473.1,128.3 468.2,129.9 463.3,131.6 458.4,132.4 453.5,133.2 449.4,131.6 447.0,127.5 447.8,122.6 450.2,119.3 452.7,116.0 453.5,111.1 455.1,106.2 456.8,102.2 455.1,99.7" fill="none" stroke="#fff" stroke-opacity="0.72" stroke-width="0.7" stroke-linejoin="round"/>
<polygon points="449.4,131.6 453.5,133.2 458.4,132.4 463.3,131.6 468.2,129.9 473.1,128.3 477.2,130.8 480.5,134.0 485.4,135.7 490.3,134.8 488.6,138.9 491.1,143.0 494.3,146.3 496.0,150.4 496.0,154.8 495.2,159.7 491.1,161.3 487.0,162.2 482.1,163.8 477.2,166.2 472.3,166.2 466.6,165.4 462.5,163.0 459.2,158.9 455.1,155.6 451.9,151.5 449.4,147.5 444.5,145.0 438.8,145.8 433.9,147.5 436.3,146.3 439.6,145.5 444.5,144.6 447.0,140.6 448.6,135.7" fill="none" stroke="#fff" stroke-opacity="0.72" stroke-width="0.7" stroke-linejoin="round"/>
<polygon points="490.3,134.8 493.5,131.6 496.8,129.1 500.0,131.5 509.8,137.2 515.5,142.1 520.9,146.9 524.7,151.8 525.9,158.1 529.6,164.3 527.2,170.5 523.4,175.5 518.4,179.2 515.5,178.7 508.2,180.1 503.3,177.7 500.1,173.6 497.6,169.5 494.3,165.4 491.1,161.3 495.2,159.7 496.0,154.8 496.0,150.4 494.3,146.3 491.1,143.0 488.6,138.9" fill="none" stroke="#fff" stroke-opacity="0.72" stroke-width="0.7" stroke-linejoin="round"/>
<polygon points="433.9,147.5 438.8,145.8 444.5,145.0 449.4,147.5 451.9,151.5 455.1,155.6 459.2,158.9 462.5,163.0 466.6,165.4 472.3,166.2 477.2,166.2 478.0,171.1 476.4,176.9 473.9,182.6 471.5,188.3 469.8,194.0 466.6,195.7 462.5,193.2 458.4,190.8 454.3,189.1 450.2,186.7 446.1,188.3 441.2,187.5 436.3,185.8 431.4,186.7 429.0,186.7 429.8,180.9 428.2,176.0 431.4,172.0 434.7,167.9 436.3,163.0 434.7,158.1 432.3,154.8 433.9,150.7" fill="none" stroke="#fff" stroke-opacity="0.72" stroke-width="0.7" stroke-linejoin="round"/>
<polygon points="477.2,166.2 482.1,163.8 487.0,162.2 491.1,161.3 494.3,165.4 497.6,169.5 500.1,173.6 503.3,177.7 508.2,180.1 515.5,178.7 516.8,182.6 515.5,186.6 516.8,190.5 518.1,194.4 519.4,197.7 518.1,202.3 516.1,206.2 513.5,209.4 511.6,212.7 505.0,214.4 499.2,216.1 493.5,217.7 488.6,214.4 483.7,211.2 478.8,208.7 474.7,206.3 473.1,200.6 469.8,194.0 471.5,188.3 473.9,182.6 476.4,176.9 478.0,171.1" fill="none" stroke="#fff" stroke-opacity="0.72" stroke-width="0.7" stroke-linejoin="round"/>
<polygon points="429.0,186.7 431.4,186.7 436.3,185.8 441.2,187.5 446.1,188.3 450.2,186.7 454.3,189.1 458.4,190.8 462.5,193.2 466.6,195.7 469.8,194.0 473.1,200.6 474.7,206.3 470.7,207.9 469.0,212.0 469.8,216.9 470.3,218.3 471.1,222.4 468.6,225.6 465.4,228.1 461.3,228.9 458.0,230.5 454.7,227.3 450.7,229.7 445.8,230.5 440.8,228.9 436.8,227.3 434.3,224.0 436.3,225.1 436.3,220.2 435.5,214.4 434.7,208.7 433.9,203.0 432.3,197.3 430.6,191.6" fill="none" stroke="#fff" stroke-opacity="0.72" stroke-width="0.7" stroke-linejoin="round"/>
<polygon points="474.7,206.3 478.8,208.7 483.7,211.2 488.6,214.4 493.5,217.7 499.2,216.1 505.0,214.4 511.6,212.7 514.3,214.8 518.4,218.9 515.1,223.0 516.8,227.9 518.4,232.8 516.8,237.7 513.5,239.3 509.4,236.9 505.3,237.7 501.2,236.9 499.6,241.8 498.8,246.7 496.3,249.9 493.9,250.8 490.6,248.3 487.4,249.1 483.3,250.8 480.0,254.0 478.4,255.0 473.5,253.4 468.6,251.8 464.5,250.9 467.0,247.7 468.6,243.6 466.2,239.5 462.9,237.1 459.6,234.6 458.0,230.5 461.3,228.9 465.4,228.1 468.6,225.6 471.1,222.4 470.3,218.3 469.8,216.9 469.0,212.0 470.7,207.9" fill="none" stroke="#fff" stroke-opacity="0.72" stroke-width="0.7" stroke-linejoin="round"/>
<polygon points="519.4,197.7 523.3,198.3 527.3,198.3 529.0,206.6 532.3,209.1 535.6,211.5 538.0,214.8 541.3,218.1 543.7,221.3 542.9,226.2 541.3,231.1 542.9,235.2 541.3,240.1 542.9,244.2 541.3,248.3 538.8,246.7 535.6,245.0 531.5,246.7 527.4,248.3 523.3,245.8 519.2,241.8 516.8,237.7 518.4,232.8 516.8,227.9 515.1,223.0 518.4,218.9 514.3,214.8 512.7,209.9 513.5,209.4 516.1,206.2 518.1,202.3" fill="none" stroke="#fff" stroke-opacity="0.72" stroke-width="0.7" stroke-linejoin="round"/>
<polygon points="501.2,236.9 505.3,237.7 509.4,236.9 513.5,239.3 516.8,237.7 519.2,241.8 523.3,245.8 527.4,248.3 531.5,246.7 535.6,245.0 538.8,246.7 541.3,248.3 538.8,251.6 535.6,254.0 533.6,257.1 533.6,262.0 534.4,266.9 536.1,270.9 533.6,274.2 531.2,277.5 529.5,281.6 525.8,276.9 522.5,272.8 519.2,269.5 516.8,268.7 514.3,271.2 511.0,273.6 507.0,272.8 502.9,271.2 498.8,269.5 496.3,267.1 495.5,262.2 496.3,257.3 497.2,252.4 498.8,246.7 499.6,241.8" fill="none" stroke="#fff" stroke-opacity="0.72" stroke-width="0.7" stroke-linejoin="round"/>
<polygon points="260.0,208.2 263.3,209.8 266.5,212.3 269.8,215.6 273.9,217.2 277.2,215.6 278.8,212.3 281.2,213.1 282.9,209.0 286.1,208.2 289.4,205.8 291.9,208.2 295.9,209.8 300.8,211.5 301.7,216.4 303.3,221.3 304.5,225.0 305.4,229.1 306.2,234.0 307.0,238.9 306.2,243.8 302.1,245.4 298.0,246.2 295.6,243.8 290.7,245.4 286.6,247.9 282.5,245.4 278.4,243.0 274.3,239.7 270.2,236.4 266.1,233.2 262.9,229.1 259.6,225.0 258.6,222.7 256.2,218.6 257.0,214.5 260.3,211.3" fill="none" stroke="#fff" stroke-opacity="0.8" stroke-width="0.7" stroke-linejoin="round"/>
<polygon points="300.8,211.5 305.8,213.1 310.7,212.3 315.6,211.5 320.5,209.8 324.5,210.7 327.0,214.7 328.6,219.6 329.4,224.5 329.9,225.0 329.1,229.9 329.9,234.8 331.5,239.7 333.1,244.6 334.8,249.5 336.4,254.4 334.8,256.9 330.7,259.3 327.4,261.8 325.0,264.2 322.5,262.6 318.4,260.1 313.5,257.7 308.6,255.2 305.4,252.0 303.7,247.9 306.2,243.8 307.0,238.9 306.2,234.0 305.4,229.1 304.5,225.0 303.3,221.3 301.7,216.4" fill="none" stroke="#fff" stroke-opacity="0.75" stroke-width="0.7" stroke-linejoin="round"/>
<polygon points="324.5,210.7 328.6,209.0 331.9,205.8 334.3,209.0 337.6,212.3 341.7,214.7 346.6,216.4 350.0,213.1 353.3,216.4 356.5,221.3 359.0,225.4 361.4,229.4 360.8,229.9 363.3,234.0 366.6,238.1 369.0,241.3 370.7,244.6 366.6,246.2 363.3,248.7 360.0,251.1 357.6,255.2 352.7,256.9 348.6,258.5 344.5,257.7 339.6,258.5 335.5,256.9 333.1,252.0 331.4,247.1 329.8,242.2 328.2,237.3 329.0,232.4 329.8,227.5 329.4,224.5 328.6,219.6 327.0,214.7" fill="none" stroke="#fff" stroke-opacity="0.8" stroke-width="0.7" stroke-linejoin="round"/>
<polygon points="377.0,204.9 381.0,202.5 385.9,201.7 390.0,202.5 392.5,204.9 394.9,208.2 399.0,210.7 401.5,214.7 403.1,219.6 402.3,224.5 403.1,229.4 403.9,235.2 404.7,240.1 405.0,239.7 402.5,243.0 397.6,242.2 392.7,242.2 387.8,243.0 382.9,243.8 378.8,246.2 374.7,245.4 370.7,244.6 369.0,241.3 366.6,238.1 363.3,234.0 360.8,229.9 361.4,229.4 363.9,224.5 364.7,219.6 366.3,214.7 370.4,212.3 374.5,209.0" fill="none" stroke="#fff" stroke-opacity="0.75" stroke-width="0.7" stroke-linejoin="round"/>
<polygon points="403.9,186.1 407.2,182.9 412.1,184.5 417.0,187.0 421.9,189.4 426.0,187.8 429.2,190.2 429.0,186.7 430.6,191.6 432.3,197.3 433.9,203.0 434.7,208.7 435.5,214.4 436.3,220.2 436.3,225.1 434.3,224.0 429.4,225.6 424.5,228.9 420.4,232.2 417.2,236.2 412.3,238.7 409.0,242.0 405.7,241.1 403.3,239.5 403.9,235.2 403.1,229.4 402.3,224.5 403.1,219.6 401.5,214.7 399.0,210.7 394.9,208.2 392.5,204.9 394.9,200.8 399.0,198.4 402.3,195.1 404.7,191.0" fill="none" stroke="#fff" stroke-opacity="0.8" stroke-width="0.7" stroke-linejoin="round"/>
<polygon points="409.0,242.0 412.3,238.7 417.2,236.2 420.4,232.2 424.5,228.9 429.4,225.6 434.3,224.0 436.8,227.3 440.8,228.9 445.8,230.5 450.7,229.7 454.7,227.3 458.0,230.5 459.6,234.6 462.9,237.1 466.2,239.5 468.6,243.6 467.0,247.7 464.5,250.9 462.1,253.4 461.3,257.5 460.5,261.6 459.6,264.8 456.4,264.0 452.3,261.6 448.2,259.9 443.3,259.1 439.2,258.3 435.1,256.7 431.9,253.4 428.6,251.8 424.5,254.2 420.4,255.8 417.2,251.8 413.9,247.7 410.6,245.2" fill="none" stroke="#fff" stroke-opacity="0.8" stroke-width="0.7" stroke-linejoin="round"/>
<polygon points="378.8,246.2 382.9,243.8 387.8,243.0 392.7,242.2 397.6,242.2 402.5,243.0 405.0,239.7 405.7,241.1 409.0,242.0 410.6,245.2 413.9,247.7 417.2,251.8 420.4,255.8 419.6,260.8 418.0,265.7 414.7,269.7 413.1,273.0 411.5,274.8 408.2,277.3 404.2,278.9 400.1,278.1 396.0,277.3 392.7,274.0 389.4,271.6 387.0,267.5 384.5,263.4 382.1,259.3 379.6,255.2 378.0,250.3" fill="none" stroke="#fff" stroke-opacity="0.8" stroke-width="0.7" stroke-linejoin="round"/>
<polygon points="370.7,244.6 374.7,245.4 378.8,246.2 378.0,250.3 379.6,255.2 382.1,259.3 384.5,263.4 387.0,267.5 389.4,271.6 392.7,274.0 396.0,277.3 391.9,280.6 387.0,283.0 382.9,286.3 378.8,288.7 374.7,290.4 370.7,289.5 367.4,287.1 364.9,283.8 361.7,281.4 357.6,280.6 353.5,279.7 351.0,277.3 354.3,274.0 357.6,270.8 360.0,267.5 359.2,263.4 357.6,259.3 357.6,255.2 360.0,251.1 363.3,248.7 366.6,246.2" fill="none" stroke="#fff" stroke-opacity="0.75" stroke-width="0.7" stroke-linejoin="round"/>
<polygon points="325.0,264.2 327.4,261.8 330.7,259.3 334.8,256.9 335.5,256.9 339.6,258.5 344.5,257.7 348.6,258.5 352.7,256.9 357.6,255.2 357.6,259.3 359.2,263.4 360.0,267.5 357.6,270.8 354.3,274.0 351.0,277.3 347.8,280.6 344.5,283.8 342.1,287.9 338.8,292.0 336.3,296.1 333.9,299.3 329.8,301.8 324.9,303.4 325.0,303.4 321.7,301.8 318.4,299.3 316.8,295.3 317.6,291.2 316.0,287.1 314.3,283.0 312.7,278.9 313.5,274.8 317.6,273.2 321.7,271.6 324.2,268.3" fill="none" stroke="#fff" stroke-opacity="0.8" stroke-width="0.7" stroke-linejoin="round"/>
<polygon points="286.6,247.9 290.7,245.4 295.6,243.8 298.0,246.2 302.1,245.4 303.7,247.9 305.4,252.0 308.6,255.2 313.5,257.7 318.4,260.1 322.5,262.6 325.0,264.2 324.2,268.3 321.7,271.6 317.6,273.2 313.5,274.8 312.7,278.9 314.3,283.0 316.0,287.1 317.6,291.2 316.8,295.3 318.4,299.3 321.7,301.8 325.0,303.4 327.4,306.3 325.0,308.0 320.9,307.2 316.8,305.5 312.7,303.1 310.3,299.0 307.0,296.5 302.9,298.2 301.3,293.6 298.0,290.4 294.7,286.3 290.7,283.0 287.4,278.9 284.9,274.8 286.6,271.6 288.2,268.3 289.8,264.2 292.3,261.8 290.7,257.7 287.4,254.4 284.1,252.0" fill="none" stroke="#fff" stroke-opacity="0.8" stroke-width="0.7" stroke-linejoin="round"/>
<polygon points="274.3,249.5 277.6,248.7 280.8,250.8 284.9,251.6 286.9,253.4 283.3,254.1 279.2,252.8 275.9,251.5" fill="none" stroke="#fff" stroke-opacity="0.8" stroke-width="0.7" stroke-linejoin="round"/>
<polygon points="279.2,261.8 281.7,260.9 284.9,263.4 288.2,265.8 289.8,268.3 288.5,271.1 285.8,269.1 283.3,266.7 280.8,265.0" fill="none" stroke="#fff" stroke-opacity="0.8" stroke-width="0.7" stroke-linejoin="round"/>
<polygon points="287.4,284.6 289.0,285.5 293.1,290.8 295.6,293.3 298.0,297.4 300.5,303.1 302.1,308.0 303.4,308.8 302.9,303.1 302.9,298.2 307.0,296.5 310.3,299.0 312.7,303.1 316.8,305.5 320.9,307.2 325.0,308.0 327.4,306.3 329.1,310.4 328.2,314.5 329.1,318.6 331.5,321.0 335.6,322.7 337.2,325.1 334.0,327.6 330.7,330.8 329.1,334.9 327.4,339.0 325.0,342.3 323.3,346.4 321.7,349.6 320.1,352.9 317.6,352.1 314.3,352.9 311.9,350.5 310.3,347.2 307.0,345.6 303.7,342.3 300.5,339.8 296.4,339.0 291.5,339.8 288.2,337.4 284.1,336.6 280.0,338.2 280.8,335.8 281.7,331.7 284.9,330.0 288.2,330.0 286.6,326.8 284.1,325.1 281.7,325.9 282.5,322.7 283.3,316.1 284.1,309.6 284.9,303.1 285.8,296.5 286.6,290.0" fill="none" stroke="#fff" stroke-opacity="0.75" stroke-width="0.7" stroke-linejoin="round"/>
<polygon points="351.0,277.3 353.5,279.7 357.6,280.6 361.7,281.4 364.9,283.8 367.4,287.1 370.7,289.5 374.7,290.4 373.1,294.4 373.1,294.9 372.3,299.8 374.7,303.9 376.4,308.0 378.0,312.9 377.2,317.8 374.7,321.9 372.3,325.1 369.0,329.2 365.8,333.3 362.5,331.7 358.4,330.8 354.3,330.0 350.2,329.2 346.1,328.4 342.1,326.8 337.2,325.1 335.6,322.7 331.5,321.0 329.1,318.6 328.2,314.5 329.1,310.4 327.4,306.3 325.0,303.4 324.9,303.4 329.8,301.8 333.9,299.3 336.3,296.1 338.8,292.0 342.1,287.9 344.5,283.8 347.8,280.6" fill="none" stroke="#fff" stroke-opacity="0.8" stroke-width="0.7" stroke-linejoin="round"/>
<polygon points="280.0,338.2 284.1,336.6 288.2,337.4 291.5,339.8 296.4,339.0 300.5,339.8 303.7,342.3 307.0,345.6 310.3,347.2 311.9,350.5 314.3,352.9 317.6,352.1 320.1,352.9 321.7,357.0 324.2,360.3 326.6,362.7 325.0,366.0 318.4,367.5 316.8,371.5 317.6,376.4 315.2,380.5 314.3,384.6 309.4,384.6 304.5,385.4 299.6,386.2 294.7,385.4 289.8,386.2 284.9,386.2 280.0,387.1 275.1,386.2 270.2,385.4 271.0,381.3 272.7,373.2 274.3,365.0 275.1,363.5 276.8,357.0 278.4,350.5 279.2,343.9" fill="none" stroke="#fff" stroke-opacity="0.75" stroke-width="0.7" stroke-linejoin="round"/>
<polygon points="270.2,385.4 275.1,386.2 280.0,387.1 284.9,386.2 289.8,386.2 294.7,385.4 299.6,386.2 304.5,385.4 309.4,384.6 314.3,384.6 318.4,385.4 321.7,387.9 322.5,392.0 322.5,396.9 320.9,400.9 318.4,405.0 316.0,409.1 313.5,413.2 311.9,417.3 311.1,420.6 307.0,422.2 302.9,423.0 299.6,420.6 296.4,417.3 292.3,414.8 288.2,412.4 284.1,411.6 280.0,409.9 276.8,407.5 273.5,409.1 271.0,408.3 271.9,405.8 272.7,400.9 269.4,397.7 265.3,396.9 261.2,396.0 260.4,394.4 264.5,392.0 267.8,388.7" fill="none" stroke="#fff" stroke-opacity="0.6" stroke-width="0.7" stroke-linejoin="round"/>
<polygon points="337.2,325.1 342.1,326.8 346.1,328.4 350.2,329.2 354.3,330.0 358.4,330.8 362.5,331.7 365.8,333.3 364.1,338.2 363.3,343.1 364.1,348.0 360.0,351.3 356.8,355.4 355.1,360.3 357.6,364.3 346.1,365.8 341.2,365.0 336.3,365.8 331.4,365.0 325.0,366.0 326.6,362.7 324.2,360.3 321.7,357.0 320.1,352.9 321.7,349.6 323.3,346.4 325.0,342.3 327.4,339.0 329.1,334.9 330.7,330.8 334.0,327.6 337.2,325.1" fill="none" stroke="#fff" stroke-opacity="0.45" stroke-width="0.7" stroke-linejoin="round"/>
<polygon points="378.0,312.9 381.3,312.1 385.4,313.7 389.4,317.0 393.5,316.1 397.6,314.5 401.7,312.9 402.5,317.8 403.3,322.7 405.0,327.6 405.8,332.5 401.7,335.8 397.6,339.0 395.2,343.1 394.3,348.0 391.9,350.5 387.8,352.1 383.7,351.3 379.6,352.9 375.6,352.1 371.5,353.7 367.4,352.1 364.1,348.0 363.3,343.1 364.1,338.2 365.8,333.3 369.0,329.2 372.3,325.1 374.7,321.9 377.2,317.8" fill="none" stroke="#fff" stroke-opacity="0.45" stroke-width="0.7" stroke-linejoin="round"/>
<polygon points="364.1,348.0 367.4,352.1 371.5,353.7 375.6,352.1 379.6,352.9 383.7,351.3 387.8,352.1 391.9,350.5 394.3,348.0 396.0,352.9 395.2,357.8 392.7,360.3 388.6,362.7 385.4,366.6 382.1,369.9 378.8,370.7 374.7,372.4 370.7,374.8 365.8,375.6 361.7,377.3 358.4,373.2 355.1,369.9 351.0,367.5 346.1,365.8 357.6,364.3 355.1,360.3 356.8,355.4 360.0,351.3" fill="none" stroke="#fff" stroke-opacity="0.45" stroke-width="0.7" stroke-linejoin="round"/>
<polygon points="325.0,366.0 331.4,365.0 336.3,365.8 341.2,365.0 346.1,365.8 351.0,367.5 355.1,369.9 358.4,373.2 361.7,377.3 364.1,379.7 367.4,381.3 369.0,384.6 366.6,387.9 363.3,391.1 360.0,394.4 355.1,395.2 351.9,397.7 348.6,401.8 344.5,405.0 342.1,409.1 338.0,403.4 333.1,400.1 328.2,396.0 323.3,392.0 321.7,387.9 318.4,385.4 314.3,384.6 315.2,380.5 317.6,376.4 316.8,371.5 318.4,367.5" fill="none" stroke="#fff" stroke-opacity="0.45" stroke-width="0.7" stroke-linejoin="round"/>
<polygon points="321.7,387.9 322.5,392.0 322.5,396.9 320.9,400.9 318.4,405.0 316.0,409.1 313.5,413.2 311.9,417.3 312.7,421.4 315.2,424.6 318.4,427.9 323.3,429.5 328.2,430.4 328.2,429.5 333.1,430.4 338.0,429.5 342.1,429.5 342.1,423.0 345.3,421.4 346.1,418.1 343.7,414.8 342.1,409.1 338.0,403.4 333.1,400.1 328.2,396.0 323.3,392.0" fill="none" stroke="#fff" stroke-opacity="0.45" stroke-width="0.7" stroke-linejoin="round"/>
<polygon points="361.7,377.3 365.8,375.6 370.7,374.8 374.7,372.4 378.8,370.7 382.1,369.9 384.5,374.0 387.0,378.9 389.4,383.8 392.7,387.9 396.0,391.1 398.4,393.6 395.2,395.2 391.1,396.0 388.6,399.3 384.5,400.9 380.5,401.8 377.2,400.1 374.7,401.8 372.3,404.2 369.8,408.3 366.6,409.9 362.5,411.6 359.2,413.2 357.6,416.5 355.1,419.7 353.5,423.0 349.4,422.2 347.8,424.6 347.8,429.5 344.5,430.4 342.1,429.5 342.1,423.0 345.3,421.4 346.1,418.1 343.7,414.8 342.1,409.1 344.5,405.0 348.6,401.8 351.9,397.7 355.1,395.2 360.0,394.4 363.3,391.1 366.6,387.9 369.0,384.6 367.4,381.3 364.1,379.7" fill="none" stroke="#fff" stroke-opacity="0.8" stroke-width="0.7" stroke-linejoin="round"/>
<polygon points="372.3,404.2 374.7,401.8 377.2,400.1 380.5,401.8 384.5,400.9 388.6,399.3 389.4,403.4 391.9,405.8 395.2,408.3 392.9,405.4 396.1,408.7 397.8,412.8 398.6,417.7 397.0,421.8 393.7,424.2 389.6,427.5 386.3,431.6 384.7,433.2 380.5,432.1 375.6,430.4 370.7,428.6 360.8,426.3 355.9,424.6 353.5,423.0 355.1,419.7 357.6,416.5 359.2,413.2 362.5,411.6 366.6,409.9 369.8,408.3" fill="none" stroke="#fff" stroke-opacity="0.45" stroke-width="0.7" stroke-linejoin="round"/>
<polygon points="398.4,393.6 395.2,395.2 391.1,396.0 388.6,399.3 389.4,403.4 391.9,405.8 395.2,408.3 396.1,408.7 397.8,412.8 398.6,417.7 397.0,421.8 393.7,424.2 396.1,425.8 400.2,427.5 404.3,429.9 406.8,430.8 409.2,426.7 413.3,425.0 417.4,424.2 422.3,423.4 427.2,421.8 432.1,420.9 436.2,421.8 437.0,417.7 436.2,413.6 437.8,410.3 441.1,407.9 441.5,404.6 438.2,402.2 434.9,399.7 431.7,397.3 429.2,399.7 425.1,401.4 421.9,399.7 419.4,397.3 421.9,392.4 421.0,387.5 417.0,389.9 412.9,390.8 408.0,392.4 403.9,393.2 399.8,392.4" fill="none" stroke="#fff" stroke-opacity="0.6" stroke-width="0.7" stroke-linejoin="round"/>
<polygon points="393.7,424.2 396.1,425.8 400.2,427.5 404.3,429.9 406.8,430.8 409.2,426.7 413.3,425.0 417.4,424.2 422.3,423.4 427.2,421.8 432.1,420.9 436.2,421.8 437.0,425.8 436.2,430.8 437.0,435.7 439.4,439.7 440.3,443.0 437.0,443.8 432.9,443.0 428.8,444.6 424.7,446.3 420.7,447.9 416.6,448.7 412.5,446.3 408.4,443.8 404.3,442.2 399.4,441.4 394.5,439.7 389.6,438.9 386.3,436.5 384.7,433.2 386.3,431.6 389.6,427.5" fill="none" stroke="#fff" stroke-opacity="0.45" stroke-width="0.7" stroke-linejoin="round"/>
<polygon points="394.1,358.9 399.0,356.4 403.9,356.4 408.8,358.9 412.9,361.3 416.1,365.4 418.6,369.5 421.0,373.6 424.3,376.9 428.4,378.5 430.8,380.1 426.8,382.6 422.7,384.2 421.0,387.5 417.0,389.9 412.9,390.8 408.0,392.4 403.9,393.2 399.8,392.4 398.4,393.6 396.0,391.1 392.7,387.9 389.4,383.8 387.0,378.9 384.5,374.0 382.1,369.9 385.4,366.6 388.6,362.7 392.7,360.3 395.2,357.8 398.4,358.6 401.7,357.0" fill="none" stroke="#fff" stroke-opacity="0.8" stroke-width="0.7" stroke-linejoin="round"/>
<polygon points="405.7,333.3 409.8,334.1 413.9,332.5 417.2,330.0 419.6,326.8 422.1,323.5 424.5,320.2 426.1,318.6 428.6,321.0 431.0,323.5 433.5,326.8 435.1,330.0 436.8,332.5 439.2,336.6 440.0,341.5 440.8,346.4 443.3,350.5 446.9,356.6 448.0,356.4 445.6,358.9 448.0,361.3 447.2,365.4 448.8,369.5 446.4,371.1 442.3,372.8 438.2,373.6 437.4,376.9 434.1,378.5 430.8,380.1 428.4,378.5 424.3,376.9 421.0,373.6 418.6,369.5 416.1,365.4 412.9,361.3 408.8,358.9 403.9,356.4 399.0,356.4 401.7,357.0 398.4,358.6 395.2,357.8 396.0,352.9 394.3,348.0 395.2,343.1 397.6,339.0 401.7,335.8" fill="none" stroke="#fff" stroke-opacity="0.8" stroke-width="0.7" stroke-linejoin="round"/>
<polygon points="419.4,397.3 421.9,392.4 421.0,387.5 422.7,384.2 426.8,382.6 430.8,380.1 434.1,378.5 437.4,376.9 438.2,373.6 442.3,372.8 446.4,371.1 448.8,369.5 452.1,371.1 455.4,370.3 458.6,367.9 461.1,366.2 463.5,369.5 466.8,372.0 470.1,373.6 473.3,376.0 476.6,378.5 478.2,381.8 476.6,385.0 473.3,386.7 470.1,387.5 466.0,389.9 461.9,393.2 457.8,396.5 453.7,399.7 449.6,402.2 445.6,403.8 441.5,404.6 438.2,402.2 434.9,399.7 431.7,397.3 429.2,399.7 425.1,401.4 421.9,399.7" fill="none" stroke="#fff" stroke-opacity="0.75" stroke-width="0.7" stroke-linejoin="round"/>
<polygon points="420.4,255.8 424.5,254.2 428.6,251.8 431.9,253.4 435.1,256.7 439.2,258.3 443.3,259.1 448.2,259.9 452.3,261.6 456.4,264.0 459.6,264.8 460.4,269.5 462.9,272.8 464.5,276.9 466.1,280.9 467.8,285.0 467.0,289.9 466.1,294.0 463.7,297.3 458.8,298.1 453.9,298.9 449.0,297.3 444.1,296.5 440.0,298.1 437.6,299.8 432.7,299.0 427.8,297.4 423.7,295.7 419.6,293.3 416.3,291.6 416.3,291.8 417.2,286.9 416.3,282.0 415.5,277.1 413.1,273.0 414.7,269.7 418.0,265.7 419.6,260.8" fill="none" stroke="#fff" stroke-opacity="0.8" stroke-width="0.7" stroke-linejoin="round"/>
<polygon points="374.7,290.4 378.8,288.7 382.9,286.3 387.0,283.0 391.9,280.6 396.0,277.3 400.1,278.1 404.2,278.9 408.2,277.3 411.5,274.8 413.1,273.0 415.5,277.1 416.3,282.0 417.2,286.9 416.3,291.8 416.3,291.6 413.1,294.1 411.4,297.4 409.0,301.4 406.5,306.3 404.1,311.2 402.5,316.1 401.7,312.9 397.6,314.5 393.5,316.1 389.4,317.0 385.4,313.7 381.3,312.1 378.0,312.9 376.4,308.0 374.7,303.9 372.3,299.8 373.1,294.9 373.1,294.4" fill="none" stroke="#fff" stroke-opacity="0.8" stroke-width="0.7" stroke-linejoin="round"/>
<polygon points="402.5,316.1 404.1,311.2 406.5,306.3 409.0,301.4 411.4,297.4 413.1,294.1 416.3,291.6 419.6,293.3 423.7,295.7 427.8,297.4 432.7,299.0 437.6,299.8 440.0,302.3 443.3,305.5 445.8,309.6 447.4,313.7 448.2,317.8 444.1,319.4 440.8,321.0 438.4,322.7 436.8,325.9 435.1,330.0 433.5,326.8 431.0,323.5 428.6,321.0 426.1,318.6 424.5,320.2 422.1,323.5 419.6,326.8 417.2,330.0 413.9,332.5 409.8,334.1 405.7,333.3 403.3,328.4 402.5,322.7" fill="none" stroke="#fff" stroke-opacity="0.8" stroke-width="0.7" stroke-linejoin="round"/>
<polygon points="437.6,299.8 441.7,297.4 446.6,295.7 451.5,294.9 456.4,296.5 461.3,297.4 466.2,296.5 471.1,295.7 476.0,294.9 480.1,296.5 482.5,299.8 485.0,303.1 484.2,307.2 481.7,311.2 479.2,314.5 476.8,317.8 473.5,320.2 469.4,322.7 465.4,325.9 461.3,323.5 457.2,321.9 453.1,322.7 449.8,320.2 448.2,317.8 447.4,313.7 445.8,309.6 443.3,305.5 440.0,302.3" fill="none" stroke="#fff" stroke-opacity="0.72" stroke-width="0.7" stroke-linejoin="round"/>
<polygon points="448.2,317.8 449.8,320.2 453.1,322.7 457.2,321.9 461.3,323.5 465.4,325.9 467.0,330.0 468.6,334.1 470.3,338.2 468.6,342.3 467.0,346.4 467.8,350.5 466.2,354.5 467.0,355.4 464.5,356.2 459.6,357.1 454.7,358.7 449.8,357.9 446.9,356.6 443.3,350.5 440.8,346.4 440.0,341.5 439.2,336.6 436.8,332.5 435.1,330.0 436.8,325.9 438.4,322.7 440.8,321.0 444.1,319.4" fill="none" stroke="#fff" stroke-opacity="0.72" stroke-width="0.7" stroke-linejoin="round"/>
<polygon points="465.4,325.9 469.4,322.7 473.5,320.2 476.8,317.8 479.2,314.5 481.7,311.2 484.2,307.2 485.0,303.1 484.1,300.6 489.0,299.7 494.7,297.3 497.2,294.0 499.6,303.6 500.4,310.1 501.2,316.7 500.4,323.2 498.8,329.7 497.2,336.3 496.3,342.0 495.5,346.9 494.8,345.6 491.5,347.2 487.4,348.0 483.3,348.8 480.1,350.5 476.8,348.8 473.5,346.4 471.1,343.1 470.3,338.2 468.6,334.1 467.0,330.0" fill="none" stroke="#fff" stroke-opacity="0.8" stroke-width="0.7" stroke-linejoin="round"/>
<polygon points="461.2,264.6 462.1,259.7 461.2,254.8 462.1,250.7 465.3,251.5 470.2,253.2 475.1,254.8 479.2,256.4 480.0,261.3 479.2,266.2 480.8,271.1 482.5,276.0 483.3,280.1 485.8,283.4 489.0,285.8 492.3,288.3 496.4,289.9 497.2,294.0 494.7,297.3 489.0,299.7 484.1,300.6 482.5,295.7 478.4,294.8 474.3,295.7 470.2,294.8 466.1,294.0 467.0,289.9 467.8,285.0 466.1,280.9 464.5,276.9 462.9,272.8 460.4,269.5" fill="none" stroke="#fff" stroke-opacity="0.8" stroke-width="0.7" stroke-linejoin="round"/>
<polygon points="479.2,256.4 480.8,252.4 483.3,249.1 487.4,249.9 491.5,249.1 494.7,252.4 495.6,258.1 496.4,263.0 498.0,267.1 501.3,269.5 505.4,271.1 509.4,273.6 510.3,276.9 507.0,279.3 502.9,281.8 499.6,284.2 498.0,288.3 496.4,289.9 492.3,288.3 489.0,285.8 485.8,283.4 483.3,280.1 482.5,276.0 480.8,271.1 479.2,266.2 480.0,261.3" fill="none" stroke="#fff" stroke-opacity="0.8" stroke-width="0.7" stroke-linejoin="round"/>
<polygon points="497.2,294.0 496.4,289.9 498.0,288.3 499.6,284.2 502.9,281.8 507.0,279.3 510.3,276.9 512.7,273.6 515.2,271.1 517.6,269.5 520.1,272.0 522.5,276.0 525.0,280.1 529.0,281.5 531.5,285.6 534.7,288.9 538.0,290.5 539.6,288.1 542.9,289.7 545.4,292.2 547.0,295.4 546.2,299.5 547.8,302.8 550.3,305.2 551.9,309.3 554.3,313.4 553.5,316.7 550.3,317.5 546.2,318.3 542.9,319.9 539.6,322.4 536.4,324.0 534.7,325.7 530.7,324.8 526.6,322.4 524.1,319.1 524.9,314.2 524.1,310.1 520.8,308.5 516.8,307.7 513.5,305.2 511.9,302.0 510.2,299.5 506.1,297.9 502.1,297.1 498.8,297.9" fill="none" stroke="#fff" stroke-opacity="0.72" stroke-width="0.7" stroke-linejoin="round"/>
<polygon points="446.9,356.6 449.8,357.9 454.7,358.7 459.6,357.1 464.5,356.2 467.0,355.4 469.4,351.3 467.8,350.5 467.0,346.4 468.6,342.3 470.3,338.2 471.1,343.1 473.5,346.4 472.7,348.9 476.8,350.5 480.8,349.7 484.9,348.1 489.0,347.3 493.1,348.9 495.6,352.2 497.2,356.2 498.8,360.3 501.3,364.4 498.8,366.9 495.6,369.3 493.9,373.4 493.1,377.5 489.0,379.1 487.4,381.6 484.9,384.8 482.5,388.1 479.2,390.6 475.9,389.7 474.3,387.3 476.8,383.2 478.4,379.1 475.9,375.8 471.9,373.4 468.6,370.1 464.5,367.7 461.2,366.9 458.8,369.3 455.5,370.9 451.4,369.3 449.0,366.0 445.7,363.6" fill="none" stroke="#fff" stroke-opacity="0.8" stroke-width="0.7" stroke-linejoin="round"/>
<polygon points="498.8,297.9 502.1,297.1 506.1,297.9 510.2,299.5 511.9,302.0 513.5,305.2 516.8,307.7 520.8,308.5 524.1,310.1 524.9,314.2 524.1,319.1 526.6,322.4 530.7,324.8 534.7,325.7 535.3,326.1 532.0,331.0 529.5,333.5 528.7,336.8 526.3,340.0 523.0,341.7 523.0,344.4 527.1,345.8 530.4,349.0 531.2,352.3 529.5,355.6 530.7,353.0 526.6,355.4 523.3,356.2 520.1,354.6 516.0,353.0 512.7,350.5 509.4,349.7 505.4,348.9 501.3,350.5 498.0,349.7 495.6,352.2 495.5,346.9 496.3,342.0 497.2,336.3 498.8,329.7 500.4,323.2 501.2,316.7 500.4,310.1 499.6,303.6" fill="none" stroke="#fff" stroke-opacity="0.8" stroke-width="0.7" stroke-linejoin="round"/>
<polygon points="495.6,352.2 498.0,349.7 501.3,350.5 505.4,348.9 509.4,349.7 512.7,350.5 516.0,353.0 520.1,354.6 523.3,356.2 525.0,359.5 527.4,363.6 528.2,367.7 529.1,371.8 531.5,375.0 534.8,376.7 532.3,379.9 528.2,379.1 523.3,378.3 518.4,376.7 514.3,375.8 510.3,374.2 507.0,371.8 503.7,369.3 499.6,368.5 495.6,369.3 498.8,366.9 501.3,364.4 498.8,360.3 497.2,356.2" fill="none" stroke="#fff" stroke-opacity="0.75" stroke-width="0.7" stroke-linejoin="round"/>
<polygon points="505.4,341.9 507.3,342.7 508.3,344.8 507.3,346.9 505.4,347.7 503.4,346.9 502.4,344.8 503.4,342.7" fill="none" stroke="#fff" stroke-opacity="0.75" stroke-width="0.7" stroke-linejoin="round"/>
<polygon points="482.5,388.1 484.9,384.8 487.4,381.6 489.0,379.1 493.1,377.5 493.9,373.4 495.6,369.3 499.6,368.5 503.7,369.3 507.0,371.8 510.3,374.2 514.3,375.8 518.4,376.7 523.3,378.3 528.2,379.1 532.3,379.9 535.5,378.1 533.9,383.0 533.1,387.9 534.7,392.0 533.9,396.0 535.5,400.1 534.7,404.2 531.4,403.4 527.4,401.8 523.3,400.1 520.0,398.5 520.1,397.9 516.0,396.3 511.9,394.6 507.8,395.5 504.5,393.0 502.1,396.3 497.2,397.1 493.1,395.5 495.6,393.0 492.3,391.4 487.4,390.6" fill="none" stroke="#fff" stroke-opacity="0.8" stroke-width="0.7" stroke-linejoin="round"/>
<polygon points="535.5,378.1 538.8,375.6 542.9,376.4 547.0,377.3 551.0,375.6 555.1,374.0 560.0,373.2 564.1,372.4 568.2,371.5 569.8,374.0 572.3,375.6 575.6,378.9 578.0,381.3 577.2,384.6 574.7,387.1 572.3,390.3 570.7,393.6 569.8,396.9 569.0,400.1 565.8,401.8 561.7,403.4 558.4,405.8 554.3,406.7 551.0,409.1 547.8,407.5 544.5,409.9 540.4,409.9 537.2,407.5 534.7,404.2 535.5,400.1 533.9,396.0 534.7,392.0 533.1,387.9 533.9,383.0" fill="none" stroke="#fff" stroke-opacity="0.8" stroke-width="0.7" stroke-linejoin="round"/>
<polygon points="550.0,306.5 554.9,305.7 558.1,306.5 562.2,304.9 566.3,308.2 568.8,312.3 572.0,315.5 576.1,318.0 578.6,321.2 579.4,324.5 576.1,327.0 573.7,330.2 571.2,332.7 567.9,334.3 565.5,336.8 564.7,339.2 561.4,338.4 557.3,337.6 553.2,339.2 552.4,341.7 549.1,339.2 545.9,338.4 542.6,340.8 540.2,343.3 539.3,346.6 537.7,349.8 534.4,349.0 531.2,349.8 529.5,347.4 527.1,345.8 523.0,344.4 523.0,341.7 526.3,340.0 528.7,336.8 529.5,333.5 532.0,331.0 535.3,326.1 536.9,324.5 540.2,322.9 543.4,320.4 546.7,318.8 550.0,317.6 553.6,316.7 554.4,313.4 551.9,309.3" fill="none" stroke="#fff" stroke-opacity="0.75" stroke-width="0.7" stroke-linejoin="round"/>
<polygon points="539.3,346.6 540.2,343.3 542.6,340.8 545.9,338.4 549.1,339.2 552.4,341.7 553.2,339.2 557.3,337.6 561.4,338.4 564.7,339.2 565.5,336.8 567.9,334.3 571.2,332.7 573.7,330.2 576.1,327.0 576.9,331.0 575.3,335.1 574.5,340.0 572.8,344.1 570.4,348.2 569.6,353.1 571.2,358.0 573.7,362.1 576.1,365.4 572.0,366.2 569.6,368.6 568.8,371.9 565.5,371.9 561.4,372.7 557.3,373.5 553.2,374.3 549.1,375.2 545.1,376.0 541.0,376.8 536.9,375.2 532.8,373.5 529.5,370.3 527.9,366.2 527.1,362.1 525.0,359.5 523.5,356.4 526.6,355.4 529.5,355.6 531.2,355.6 531.2,352.3 530.4,349.0 533.6,349.0 537.7,349.8" fill="none" stroke="#fff" stroke-opacity="0.75" stroke-width="0.7" stroke-linejoin="round"/>
<polygon points="572.8,344.1 576.9,344.9 581.8,347.4 586.7,349.0 591.6,349.8 596.5,350.7 601.4,350.7 603.9,353.1 603.1,357.2 601.4,361.3 599.0,365.4 598.4,369.1 596.0,371.5 592.7,374.0 589.4,375.6 586.2,378.9 583.7,381.3 580.5,383.0 578.0,381.3 575.6,378.9 572.3,375.6 569.8,374.0 568.2,371.5 568.8,371.9 569.6,368.6 572.0,366.2 576.1,365.4 573.7,362.1 571.2,358.0 569.6,353.1 570.4,348.2" fill="none" stroke="#fff" stroke-opacity="0.75" stroke-width="0.7" stroke-linejoin="round"/>
<polygon points="536.1,270.9 539.3,273.4 543.4,274.2 547.5,275.8 550.8,275.0 553.2,271.8 555.7,268.5 558.1,266.0 559.8,268.5 563.0,271.8 566.3,274.2 569.6,275.0 572.8,277.5 574.5,281.6 576.1,285.7 579.4,288.1 581.0,291.4 580.2,295.5 577.7,298.7 573.7,301.2 569.6,302.8 565.5,303.6 561.4,305.3 558.1,306.9 555.7,306.1 552.4,304.4 549.1,302.0 546.7,299.5 547.5,296.3 545.9,293.0 543.4,290.6 540.2,288.9 536.9,289.7 534.4,287.3 532.0,284.0 529.5,281.6 531.2,277.5 533.6,274.2" fill="none" stroke="#fff" stroke-opacity="0.8" stroke-width="0.7" stroke-linejoin="round"/>
<polygon points="533.6,257.1 537.7,253.8 542.6,251.3 547.5,248.9 548.3,244.8 552.4,243.2 556.5,241.5 561.4,241.5 565.5,243.2 567.9,246.4 567.1,250.5 570.4,253.8 572.8,257.9 574.5,262.0 573.7,266.0 570.4,268.5 567.9,271.8 566.3,274.2 563.0,271.8 559.8,268.5 558.1,266.0 555.7,268.5 553.2,271.8 550.8,275.0 547.5,275.8 543.4,274.2 539.3,273.4 536.1,270.9 534.4,266.9 533.6,262.0" fill="none" stroke="#fff" stroke-opacity="0.8" stroke-width="0.7" stroke-linejoin="round"/>
<polygon points="587.0,404.7 589.3,405.8 590.0,411.5 590.4,417.1 592.7,421.6 594.9,427.2 596.0,433.9 596.7,440.7 596.0,447.4 595.4,454.2 593.8,460.9 592.7,467.6 591.5,474.4 589.3,480.0 587.0,484.5 583.7,482.2 579.2,480.0 575.8,477.8 572.4,475.5 570.2,471.0 571.3,466.5 567.9,463.1 566.8,457.5 564.6,453.0 565.7,448.5 562.3,445.2 561.2,439.6 563.4,435.1 562.3,430.6 566.8,427.2 571.3,423.8 575.8,421.6 580.3,419.3 584.8,417.1 585.9,411.5" fill="none" stroke="#fff" stroke-opacity="0.6" stroke-width="0.7" stroke-linejoin="round"/>
<polyline points="603.4,388.5 546.6,424.9 546.6,486" fill="none" stroke="#8aa0d8" stroke-width="1.35"/><polyline points="561.2,438.0 566.8,439.6 572.4,441.8 576.9,446.3 580.3,451.9 583.7,457.5 587.0,462.0" fill="none" stroke="#f4f4f4" stroke-width="0.8"/>
<text x="199.1" y="142.8" fill="#ffffff" font-size="12.0" text-anchor="middle">54</text>
<text x="229.6" y="141.8" fill="#ffffff" font-size="12.0" text-anchor="middle">115</text>
<text x="232.9" y="168.4" fill="#0a0a0a" font-size="12.0" text-anchor="middle">14</text>
<text x="287.3" y="111.9" fill="#0a0a0a" font-size="12.0" text-anchor="middle">24</text>
<text x="321.4" y="112.2" fill="#0a0a0a" font-size="12.0" text-anchor="middle">17</text>
<text x="332.5" y="137.2" fill="#0a0a0a" font-size="12.0" text-anchor="middle">4</text>
<text x="272.5" y="158.2" fill="#0a0a0a" font-size="12.0" text-anchor="middle">31</text>
<text x="308.1" y="160.7" fill="#0a0a0a" font-size="12.0" text-anchor="middle">23</text>
<text x="268.0" y="198.2" fill="#0a0a0a" font-size="12.0" text-anchor="middle">12</text>
<text x="315.9" y="198.8" fill="#ffffff" font-size="12.0" text-anchor="middle">284</text>
<text x="337.0" y="170.9" fill="#ffffff" font-size="12.0" text-anchor="middle">111</text>
<text x="351.6" y="201.6" fill="#ffffff" font-size="12.0" text-anchor="middle">333</text>
<text x="282.3" y="232.3" fill="#0a0a0a" font-size="12.0" text-anchor="middle">44</text>
<text x="314.5" y="233.5" fill="#0a0a0a" font-size="12.0" text-anchor="middle">18</text>
<text x="340.6" y="240.3" fill="#0a0a0a" font-size="12.0" text-anchor="middle">45</text>
<text x="379.8" y="152.8" fill="#ffffff" font-size="12.0" text-anchor="middle">145</text>
<text x="405.4" y="173.4" fill="#ffffff" font-size="12.0" text-anchor="middle">169</text>
<text x="378.4" y="192.0" fill="#ffffff" font-size="12.0" text-anchor="middle">291</text>
<text x="406.4" y="143.6" fill="#ffffff" font-size="12.0" text-anchor="middle">83</text>
<text x="391.7" y="125.7" fill="#ffffff" font-size="12.0" text-anchor="middle">98</text>
<text x="427.5" y="140.8" fill="#0a0a0a" font-size="12.0" text-anchor="middle">45</text>
<text x="404.0" y="40.6" fill="#0a0a0a" font-size="12.0" text-anchor="middle">15</text>
<text x="410.7" y="68.7" fill="#0a0a0a" font-size="12.0" text-anchor="middle">18</text>
<text x="446.8" y="58.0" fill="#0a0a0a" font-size="12.0" text-anchor="middle">2</text>
<text x="364.2" y="82.9" fill="#ffffff" font-size="12.0" text-anchor="middle">57</text>
<text x="407.8" y="96.8" fill="#0a0a0a" font-size="12.0" text-anchor="middle">28</text>
<text x="448.6" y="85.6" fill="#ffffff" font-size="12.0" text-anchor="middle">51</text>
<text x="363.0" y="114.7" fill="#ffffff" font-size="12.0" text-anchor="middle">50</text>
<text x="484.4" y="87.4" fill="#0a0a0a" font-size="12.0" text-anchor="middle">41</text>
<text x="472.1" y="119.4" fill="#ffffff" font-size="12.0" text-anchor="middle">106</text>
<text x="510.3" y="112.1" fill="#ffffff" font-size="12.0" text-anchor="middle">125</text>
<text x="545.8" y="109.5" fill="#0a0a0a" font-size="12.0" text-anchor="middle">38</text>
<text x="581.0" y="125.7" fill="#0a0a0a" font-size="12.0" text-anchor="middle">4</text>
<text x="532.6" y="132.4" fill="#0a0a0a" font-size="12.0" text-anchor="middle">17</text>
<text x="546.4" y="153.8" fill="#0a0a0a" font-size="12.0" text-anchor="middle">43</text>
<text x="574.9" y="166.3" fill="#0a0a0a" font-size="12.0" text-anchor="middle">23</text>
<text x="508.0" y="164.4" fill="#ffffff" font-size="12.0" text-anchor="middle">102</text>
<text x="534.1" y="183.3" fill="#ffffff" font-size="12.0" text-anchor="middle">62</text>
<text x="487.8" y="191.0" fill="#ffffff" font-size="12.0" text-anchor="middle">151</text>
<text x="547.8" y="206.4" fill="#0a0a0a" font-size="12.0" text-anchor="middle">34</text>
<text x="485.7" y="233.5" fill="#ffffff" font-size="12.0" text-anchor="middle">228</text>
<text x="528.0" y="234.8" fill="#ffffff" font-size="12.0" text-anchor="middle">112</text>
<text x="471.5" y="152.0" fill="#ffffff" font-size="12.0" text-anchor="middle">112</text>
<text x="450.7" y="178.9" fill="#ffffff" font-size="12.0" text-anchor="middle">146</text>
<text x="446.6" y="211.6" fill="#ffffff" font-size="12.0" text-anchor="middle">121</text>
<text x="415.4" y="215.0" fill="#0a0a0a" font-size="12.0" text-anchor="middle">20</text>
<text x="379.1" y="231.9" fill="#0a0a0a" font-size="12.0" text-anchor="middle">17</text>
<text x="396.5" y="260.9" fill="#0a0a0a" font-size="12.0" text-anchor="middle">34</text>
<text x="369.0" y="277.7" fill="#0a0a0a" font-size="12.0" text-anchor="middle">11</text>
<text x="332.9" y="281.3" fill="#0a0a0a" font-size="12.0" text-anchor="middle">29</text>
<text x="386.6" y="301.8" fill="#ffffff" font-size="12.0" text-anchor="middle">57</text>
<text x="434.0" y="246.3" fill="#ffffff" font-size="12.0" text-anchor="middle">64</text>
<text x="433.2" y="283.2" fill="#0a0a0a" font-size="12.0" text-anchor="middle">49</text>
<text x="470.6" y="278.8" fill="#0a0a0a" font-size="12.0" text-anchor="middle">25</text>
<text x="493.6" y="280.2" fill="#ffffff" font-size="12.0" text-anchor="middle">71</text>
<text x="513.7" y="263.7" fill="#ffffff" font-size="12.0" text-anchor="middle">150</text>
<text x="554.8" y="262.3" fill="#ffffff" font-size="12.0" text-anchor="middle">63</text>
<text x="559.3" y="289.7" fill="#ffffff" font-size="12.0" text-anchor="middle">51</text>
<text x="533.1" y="306.1" fill="#ffffff" font-size="12.0" text-anchor="middle">191</text>
<text x="510.2" y="330.5" fill="#ffffff" font-size="12.0" text-anchor="middle">53</text>
<text x="546.8" y="331.2" fill="#0a0a0a" font-size="12.0" text-anchor="middle">17</text>
<text x="481.5" y="333.9" fill="#0a0a0a" font-size="12.0" text-anchor="middle">28</text>
<text x="548.3" y="362.8" fill="#0a0a0a" font-size="12.0" text-anchor="middle">15</text>
<text x="586.7" y="362.8" fill="#0a0a0a" font-size="12.0" text-anchor="middle">17</text>
<text x="422.5" y="312.3" fill="#0a0a0a" font-size="12.0" text-anchor="middle">25</text>
<text x="458.8" y="313.1" fill="#ffffff" font-size="12.0" text-anchor="middle">135</text>
<text x="450.7" y="343.0" fill="#ffffff" font-size="12.0" text-anchor="middle">142</text>
<text x="418.5" y="353.2" fill="#ffffff" font-size="12.0" text-anchor="middle">73</text>
<text x="480.9" y="367.2" fill="#ffffff" font-size="12.0" text-anchor="middle">87</text>
<text x="510.3" y="365.5" fill="#0a0a0a" font-size="12.0" text-anchor="middle">13</text>
<text x="506.7" y="387.5" fill="#0a0a0a" font-size="12.0" text-anchor="middle">27</text>
<text x="444.8" y="388.4" fill="#0a0a0a" font-size="12.0" text-anchor="middle">13</text>
<text x="549.4" y="397.1" fill="#0a0a0a" font-size="12.0" text-anchor="middle">27</text>
<text x="398.1" y="376.2" fill="#0a0a0a" font-size="12.0" text-anchor="middle">31</text>
<text x="376.7" y="392.2" fill="#0a0a0a" font-size="12.0" text-anchor="middle">24</text>
<text x="333.4" y="384.2" fill="#0a0a0a" font-size="12.0" text-anchor="middle">9</text>
<text x="325.4" y="412.8" fill="#0a0a0a" font-size="12.0" text-anchor="middle">1</text>
<text x="372.4" y="422.3" fill="#0a0a0a" font-size="12.0" text-anchor="middle">9</text>
<text x="415.7" y="438.2" fill="#0a0a0a" font-size="12.0" text-anchor="middle">5</text>
<text x="364.2" y="370.5" fill="#0a0a0a" font-size="12.0" text-anchor="middle">4</text>
<text x="351.5" y="312.8" fill="#0a0a0a" font-size="12.0" text-anchor="middle">33</text>
<text x="380.1" y="335.7" fill="#0a0a0a" font-size="12.0" text-anchor="middle">3</text>
<text x="336.2" y="352.3" fill="#0a0a0a" font-size="12.0" text-anchor="middle">2</text>
<text x="306.2" y="328.3" fill="#0a0a0a" font-size="12.0" text-anchor="middle">12</text>
<text x="289.8" y="366.7" fill="#0a0a0a" font-size="12.0" text-anchor="middle">10</text>
<text x="298.8" y="273.1" fill="#0a0a0a" font-size="12.0" text-anchor="middle">37</text>
<text x="403.5" y="110.7" fill="#0a0a0a" font-size="5.5" text-anchor="middle">6</text>
<text x="410.0" y="121.2" fill="#0a0a0a" font-size="5.0" text-anchor="middle">22</text>
<text x="414.1" y="125.9" fill="#0a0a0a" font-size="5.0" text-anchor="middle">2</text>
</g>
</svg>
<div class="t title" style="top:55.6px">Wolfsangriffe in Frankreich</div>
<div class="t title" style="top:76px">im Zeitraum 1400 - 1918</div>
<div class="t b" style="left:37.5px;top:162.7px;letter-spacing:0.075px">Gesamtzahl der in</div>
<div class="t b" style="left:37.5px;top:176.8px">historischen Aufzeichnungen</div>
<div class="t b" style="left:37.5px;top:191.3px;letter-spacing:0.17px">eingetragenen Personen,</div>
<div class="t b" style="left:37.5px;top:206px;letter-spacing:0.13px">die von Wölfen getötet wurden</div>
<div class="sw" style="top:228.9px;background:#ffffcc"></div>
<div class="sw" style="top:247.3px;background:#a1dab4"></div>
<div class="sw" style="top:265.8px;background:#41b6c4"></div>
<div class="sw" style="top:284.2px;background:#2c7fb8"></div>
<div class="sw" style="top:303px;background:#253494"></div>
<div class="sw" style="top:321.6px;background:#dcdcdc"></div>
<div class="t b l" style="left:101.9px;top:233.7px">1</div><div class="t b l" style="left:114.2px;top:233.7px">-</div><div class="t b l" style="left:124.4px;top:233.7px">9 Fälle</div>
<div class="t b l" style="left:96.3px;top:251.9px">10 - 19 Fälle</div>
<div class="t b l" style="left:96.3px;top:269.6px">20 - 49 Fälle</div>
<div class="t b l" style="left:96.3px;top:287.4px">50 - 99 Fälle</div>
<div class="t b l" style="left:96.3px;top:305.1px">über 100 Fälle</div>
<div class="t b l" style="left:96.3px;top:322.2px">Gebiete aus</div>
<div class="t b l" style="left:96.3px;top:336.7px">denen keine</div>
<div class="t b l" style="left:96.3px;top:350.4px">Daten vorliegen</div>
<div class="t b" style="left:38px;top:383.6px;letter-spacing:0.13px">Davon waren</div>
<div class="t b" style="left:38px;top:397.9px;letter-spacing:0.13px">Beuteattacken:</div>
<div class="t b" style="left:38px;top:412.2px;letter-spacing:0.13px">tollwutbedingte:</div>
<div class="t b" style="left:38px;top:426.5px;letter-spacing:0.13px">Gesamtzahl:</div>
<div class="t b" style="left:133.5px;top:397.9px">2566 Fälle</div>
<div class="t b" style="left:133.5px;top:412.2px">2813 Fälle</div>
<div class="t b" style="left:133.5px;top:426.5px">5379 Fälle</div>
<div class="t r" style="left:38px;top:457.9px">Public domain. Quelle: Jean-Marc Moriceaux</div>
<div class="t r" style="left:562.3px;top:452.1px">Korsika</div>
</body></html>
